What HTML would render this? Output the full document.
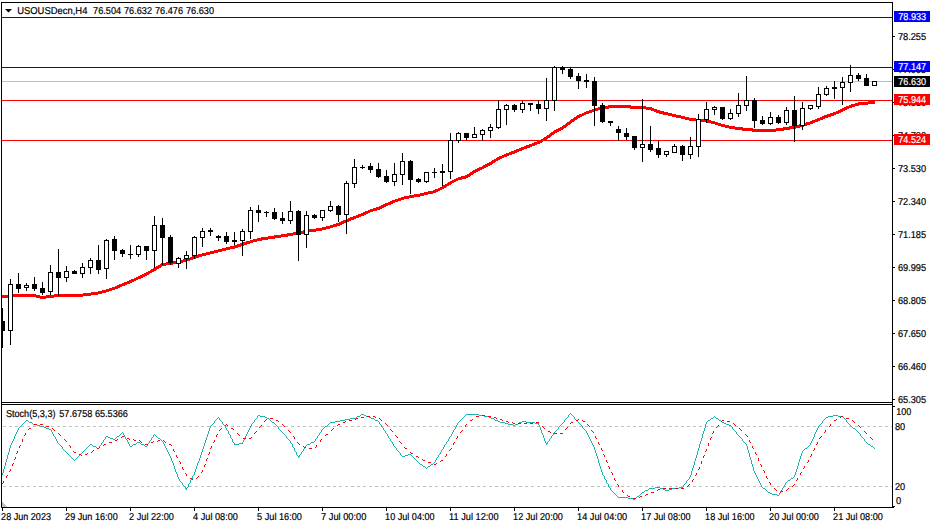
<!DOCTYPE html>
<html><head><meta charset="utf-8"><title>USOUSDecn,H4</title>
<style>html,body{margin:0;padding:0;background:#fff;overflow:hidden}svg{display:block}text{font-family:"Liberation Sans",Arial,sans-serif;font-size:10px;text-rendering:geometricPrecision;stroke-width:0.2px;paint-order:stroke}</style>
</head><body>
<svg width="933" height="528" viewBox="0 0 933 528">
<rect x="0" y="0" width="933" height="528" fill="#fff"/>
<g shape-rendering="crispEdges">
<rect x="2" y="17" width="890" height="1" fill="#0000ff"/>
<rect x="2" y="67" width="890" height="1" fill="#0000ff"/>
<rect x="2" y="81" width="890" height="1" fill="#c0c0c0"/>
<rect x="2" y="100" width="890" height="1" fill="#ff0000"/>
<rect x="2" y="140" width="890" height="1" fill="#ff0000"/>
<g fill="#c0c0c0">
<rect x="3" y="426" width="3" height="1"/>
<rect x="9" y="426" width="3" height="1"/>
<rect x="15" y="426" width="3" height="1"/>
<rect x="21" y="426" width="3" height="1"/>
<rect x="27" y="426" width="3" height="1"/>
<rect x="33" y="426" width="3" height="1"/>
<rect x="39" y="426" width="3" height="1"/>
<rect x="45" y="426" width="3" height="1"/>
<rect x="51" y="426" width="3" height="1"/>
<rect x="57" y="426" width="3" height="1"/>
<rect x="63" y="426" width="3" height="1"/>
<rect x="69" y="426" width="3" height="1"/>
<rect x="75" y="426" width="3" height="1"/>
<rect x="81" y="426" width="3" height="1"/>
<rect x="87" y="426" width="3" height="1"/>
<rect x="93" y="426" width="3" height="1"/>
<rect x="99" y="426" width="3" height="1"/>
<rect x="105" y="426" width="3" height="1"/>
<rect x="111" y="426" width="3" height="1"/>
<rect x="117" y="426" width="3" height="1"/>
<rect x="123" y="426" width="3" height="1"/>
<rect x="129" y="426" width="3" height="1"/>
<rect x="135" y="426" width="3" height="1"/>
<rect x="141" y="426" width="3" height="1"/>
<rect x="147" y="426" width="3" height="1"/>
<rect x="153" y="426" width="3" height="1"/>
<rect x="159" y="426" width="3" height="1"/>
<rect x="165" y="426" width="3" height="1"/>
<rect x="171" y="426" width="3" height="1"/>
<rect x="177" y="426" width="3" height="1"/>
<rect x="183" y="426" width="3" height="1"/>
<rect x="189" y="426" width="3" height="1"/>
<rect x="195" y="426" width="3" height="1"/>
<rect x="201" y="426" width="3" height="1"/>
<rect x="207" y="426" width="3" height="1"/>
<rect x="213" y="426" width="3" height="1"/>
<rect x="219" y="426" width="3" height="1"/>
<rect x="225" y="426" width="3" height="1"/>
<rect x="231" y="426" width="3" height="1"/>
<rect x="237" y="426" width="3" height="1"/>
<rect x="243" y="426" width="3" height="1"/>
<rect x="249" y="426" width="3" height="1"/>
<rect x="255" y="426" width="3" height="1"/>
<rect x="261" y="426" width="3" height="1"/>
<rect x="267" y="426" width="3" height="1"/>
<rect x="273" y="426" width="3" height="1"/>
<rect x="279" y="426" width="3" height="1"/>
<rect x="285" y="426" width="3" height="1"/>
<rect x="291" y="426" width="3" height="1"/>
<rect x="297" y="426" width="3" height="1"/>
<rect x="303" y="426" width="3" height="1"/>
<rect x="309" y="426" width="3" height="1"/>
<rect x="315" y="426" width="3" height="1"/>
<rect x="321" y="426" width="3" height="1"/>
<rect x="327" y="426" width="3" height="1"/>
<rect x="333" y="426" width="3" height="1"/>
<rect x="339" y="426" width="3" height="1"/>
<rect x="345" y="426" width="3" height="1"/>
<rect x="351" y="426" width="3" height="1"/>
<rect x="357" y="426" width="3" height="1"/>
<rect x="363" y="426" width="3" height="1"/>
<rect x="369" y="426" width="3" height="1"/>
<rect x="375" y="426" width="3" height="1"/>
<rect x="381" y="426" width="3" height="1"/>
<rect x="387" y="426" width="3" height="1"/>
<rect x="393" y="426" width="3" height="1"/>
<rect x="399" y="426" width="3" height="1"/>
<rect x="405" y="426" width="3" height="1"/>
<rect x="411" y="426" width="3" height="1"/>
<rect x="417" y="426" width="3" height="1"/>
<rect x="423" y="426" width="3" height="1"/>
<rect x="429" y="426" width="3" height="1"/>
<rect x="435" y="426" width="3" height="1"/>
<rect x="441" y="426" width="3" height="1"/>
<rect x="447" y="426" width="3" height="1"/>
<rect x="453" y="426" width="3" height="1"/>
<rect x="459" y="426" width="3" height="1"/>
<rect x="465" y="426" width="3" height="1"/>
<rect x="471" y="426" width="3" height="1"/>
<rect x="477" y="426" width="3" height="1"/>
<rect x="483" y="426" width="3" height="1"/>
<rect x="489" y="426" width="3" height="1"/>
<rect x="495" y="426" width="3" height="1"/>
<rect x="501" y="426" width="3" height="1"/>
<rect x="507" y="426" width="3" height="1"/>
<rect x="513" y="426" width="3" height="1"/>
<rect x="519" y="426" width="3" height="1"/>
<rect x="525" y="426" width="3" height="1"/>
<rect x="531" y="426" width="3" height="1"/>
<rect x="537" y="426" width="3" height="1"/>
<rect x="543" y="426" width="3" height="1"/>
<rect x="549" y="426" width="3" height="1"/>
<rect x="555" y="426" width="3" height="1"/>
<rect x="561" y="426" width="3" height="1"/>
<rect x="567" y="426" width="3" height="1"/>
<rect x="573" y="426" width="3" height="1"/>
<rect x="579" y="426" width="3" height="1"/>
<rect x="585" y="426" width="3" height="1"/>
<rect x="591" y="426" width="3" height="1"/>
<rect x="597" y="426" width="3" height="1"/>
<rect x="603" y="426" width="3" height="1"/>
<rect x="609" y="426" width="3" height="1"/>
<rect x="615" y="426" width="3" height="1"/>
<rect x="621" y="426" width="3" height="1"/>
<rect x="627" y="426" width="3" height="1"/>
<rect x="633" y="426" width="3" height="1"/>
<rect x="639" y="426" width="3" height="1"/>
<rect x="645" y="426" width="3" height="1"/>
<rect x="651" y="426" width="3" height="1"/>
<rect x="657" y="426" width="3" height="1"/>
<rect x="663" y="426" width="3" height="1"/>
<rect x="669" y="426" width="3" height="1"/>
<rect x="675" y="426" width="3" height="1"/>
<rect x="681" y="426" width="3" height="1"/>
<rect x="687" y="426" width="3" height="1"/>
<rect x="693" y="426" width="3" height="1"/>
<rect x="699" y="426" width="3" height="1"/>
<rect x="705" y="426" width="3" height="1"/>
<rect x="711" y="426" width="3" height="1"/>
<rect x="717" y="426" width="3" height="1"/>
<rect x="723" y="426" width="3" height="1"/>
<rect x="729" y="426" width="3" height="1"/>
<rect x="735" y="426" width="3" height="1"/>
<rect x="741" y="426" width="3" height="1"/>
<rect x="747" y="426" width="3" height="1"/>
<rect x="753" y="426" width="3" height="1"/>
<rect x="759" y="426" width="3" height="1"/>
<rect x="765" y="426" width="3" height="1"/>
<rect x="771" y="426" width="3" height="1"/>
<rect x="777" y="426" width="3" height="1"/>
<rect x="783" y="426" width="3" height="1"/>
<rect x="789" y="426" width="3" height="1"/>
<rect x="795" y="426" width="3" height="1"/>
<rect x="801" y="426" width="3" height="1"/>
<rect x="807" y="426" width="3" height="1"/>
<rect x="813" y="426" width="3" height="1"/>
<rect x="819" y="426" width="3" height="1"/>
<rect x="825" y="426" width="3" height="1"/>
<rect x="831" y="426" width="3" height="1"/>
<rect x="837" y="426" width="3" height="1"/>
<rect x="843" y="426" width="3" height="1"/>
<rect x="849" y="426" width="3" height="1"/>
<rect x="855" y="426" width="3" height="1"/>
<rect x="861" y="426" width="3" height="1"/>
<rect x="867" y="426" width="3" height="1"/>
<rect x="873" y="426" width="3" height="1"/>
<rect x="879" y="426" width="3" height="1"/>
<rect x="885" y="426" width="3" height="1"/>
<rect x="891" y="426" width="1" height="1"/>
<rect x="3" y="486" width="3" height="1"/>
<rect x="9" y="486" width="3" height="1"/>
<rect x="15" y="486" width="3" height="1"/>
<rect x="21" y="486" width="3" height="1"/>
<rect x="27" y="486" width="3" height="1"/>
<rect x="33" y="486" width="3" height="1"/>
<rect x="39" y="486" width="3" height="1"/>
<rect x="45" y="486" width="3" height="1"/>
<rect x="51" y="486" width="3" height="1"/>
<rect x="57" y="486" width="3" height="1"/>
<rect x="63" y="486" width="3" height="1"/>
<rect x="69" y="486" width="3" height="1"/>
<rect x="75" y="486" width="3" height="1"/>
<rect x="81" y="486" width="3" height="1"/>
<rect x="87" y="486" width="3" height="1"/>
<rect x="93" y="486" width="3" height="1"/>
<rect x="99" y="486" width="3" height="1"/>
<rect x="105" y="486" width="3" height="1"/>
<rect x="111" y="486" width="3" height="1"/>
<rect x="117" y="486" width="3" height="1"/>
<rect x="123" y="486" width="3" height="1"/>
<rect x="129" y="486" width="3" height="1"/>
<rect x="135" y="486" width="3" height="1"/>
<rect x="141" y="486" width="3" height="1"/>
<rect x="147" y="486" width="3" height="1"/>
<rect x="153" y="486" width="3" height="1"/>
<rect x="159" y="486" width="3" height="1"/>
<rect x="165" y="486" width="3" height="1"/>
<rect x="171" y="486" width="3" height="1"/>
<rect x="177" y="486" width="3" height="1"/>
<rect x="183" y="486" width="3" height="1"/>
<rect x="189" y="486" width="3" height="1"/>
<rect x="195" y="486" width="3" height="1"/>
<rect x="201" y="486" width="3" height="1"/>
<rect x="207" y="486" width="3" height="1"/>
<rect x="213" y="486" width="3" height="1"/>
<rect x="219" y="486" width="3" height="1"/>
<rect x="225" y="486" width="3" height="1"/>
<rect x="231" y="486" width="3" height="1"/>
<rect x="237" y="486" width="3" height="1"/>
<rect x="243" y="486" width="3" height="1"/>
<rect x="249" y="486" width="3" height="1"/>
<rect x="255" y="486" width="3" height="1"/>
<rect x="261" y="486" width="3" height="1"/>
<rect x="267" y="486" width="3" height="1"/>
<rect x="273" y="486" width="3" height="1"/>
<rect x="279" y="486" width="3" height="1"/>
<rect x="285" y="486" width="3" height="1"/>
<rect x="291" y="486" width="3" height="1"/>
<rect x="297" y="486" width="3" height="1"/>
<rect x="303" y="486" width="3" height="1"/>
<rect x="309" y="486" width="3" height="1"/>
<rect x="315" y="486" width="3" height="1"/>
<rect x="321" y="486" width="3" height="1"/>
<rect x="327" y="486" width="3" height="1"/>
<rect x="333" y="486" width="3" height="1"/>
<rect x="339" y="486" width="3" height="1"/>
<rect x="345" y="486" width="3" height="1"/>
<rect x="351" y="486" width="3" height="1"/>
<rect x="357" y="486" width="3" height="1"/>
<rect x="363" y="486" width="3" height="1"/>
<rect x="369" y="486" width="3" height="1"/>
<rect x="375" y="486" width="3" height="1"/>
<rect x="381" y="486" width="3" height="1"/>
<rect x="387" y="486" width="3" height="1"/>
<rect x="393" y="486" width="3" height="1"/>
<rect x="399" y="486" width="3" height="1"/>
<rect x="405" y="486" width="3" height="1"/>
<rect x="411" y="486" width="3" height="1"/>
<rect x="417" y="486" width="3" height="1"/>
<rect x="423" y="486" width="3" height="1"/>
<rect x="429" y="486" width="3" height="1"/>
<rect x="435" y="486" width="3" height="1"/>
<rect x="441" y="486" width="3" height="1"/>
<rect x="447" y="486" width="3" height="1"/>
<rect x="453" y="486" width="3" height="1"/>
<rect x="459" y="486" width="3" height="1"/>
<rect x="465" y="486" width="3" height="1"/>
<rect x="471" y="486" width="3" height="1"/>
<rect x="477" y="486" width="3" height="1"/>
<rect x="483" y="486" width="3" height="1"/>
<rect x="489" y="486" width="3" height="1"/>
<rect x="495" y="486" width="3" height="1"/>
<rect x="501" y="486" width="3" height="1"/>
<rect x="507" y="486" width="3" height="1"/>
<rect x="513" y="486" width="3" height="1"/>
<rect x="519" y="486" width="3" height="1"/>
<rect x="525" y="486" width="3" height="1"/>
<rect x="531" y="486" width="3" height="1"/>
<rect x="537" y="486" width="3" height="1"/>
<rect x="543" y="486" width="3" height="1"/>
<rect x="549" y="486" width="3" height="1"/>
<rect x="555" y="486" width="3" height="1"/>
<rect x="561" y="486" width="3" height="1"/>
<rect x="567" y="486" width="3" height="1"/>
<rect x="573" y="486" width="3" height="1"/>
<rect x="579" y="486" width="3" height="1"/>
<rect x="585" y="486" width="3" height="1"/>
<rect x="591" y="486" width="3" height="1"/>
<rect x="597" y="486" width="3" height="1"/>
<rect x="603" y="486" width="3" height="1"/>
<rect x="609" y="486" width="3" height="1"/>
<rect x="615" y="486" width="3" height="1"/>
<rect x="621" y="486" width="3" height="1"/>
<rect x="627" y="486" width="3" height="1"/>
<rect x="633" y="486" width="3" height="1"/>
<rect x="639" y="486" width="3" height="1"/>
<rect x="645" y="486" width="3" height="1"/>
<rect x="651" y="486" width="3" height="1"/>
<rect x="657" y="486" width="3" height="1"/>
<rect x="663" y="486" width="3" height="1"/>
<rect x="669" y="486" width="3" height="1"/>
<rect x="675" y="486" width="3" height="1"/>
<rect x="681" y="486" width="3" height="1"/>
<rect x="687" y="486" width="3" height="1"/>
<rect x="693" y="486" width="3" height="1"/>
<rect x="699" y="486" width="3" height="1"/>
<rect x="705" y="486" width="3" height="1"/>
<rect x="711" y="486" width="3" height="1"/>
<rect x="717" y="486" width="3" height="1"/>
<rect x="723" y="486" width="3" height="1"/>
<rect x="729" y="486" width="3" height="1"/>
<rect x="735" y="486" width="3" height="1"/>
<rect x="741" y="486" width="3" height="1"/>
<rect x="747" y="486" width="3" height="1"/>
<rect x="753" y="486" width="3" height="1"/>
<rect x="759" y="486" width="3" height="1"/>
<rect x="765" y="486" width="3" height="1"/>
<rect x="771" y="486" width="3" height="1"/>
<rect x="777" y="486" width="3" height="1"/>
<rect x="783" y="486" width="3" height="1"/>
<rect x="789" y="486" width="3" height="1"/>
<rect x="795" y="486" width="3" height="1"/>
<rect x="801" y="486" width="3" height="1"/>
<rect x="807" y="486" width="3" height="1"/>
<rect x="813" y="486" width="3" height="1"/>
<rect x="819" y="486" width="3" height="1"/>
<rect x="825" y="486" width="3" height="1"/>
<rect x="831" y="486" width="3" height="1"/>
<rect x="837" y="486" width="3" height="1"/>
<rect x="843" y="486" width="3" height="1"/>
<rect x="849" y="486" width="3" height="1"/>
<rect x="855" y="486" width="3" height="1"/>
<rect x="861" y="486" width="3" height="1"/>
<rect x="867" y="486" width="3" height="1"/>
<rect x="873" y="486" width="3" height="1"/>
<rect x="879" y="486" width="3" height="1"/>
<rect x="885" y="486" width="3" height="1"/>
<rect x="891" y="486" width="1" height="1"/>
</g>
<polygon points="2,502 2,507 7,507" fill="#c0c0c0"/>
</g>
<path d="M2 295h1v3h-1zM3 295h1v3h-1zM4 295h1v3h-1zM5 295h1v3h-1zM6 295h1v3h-1zM7 295h1v3h-1zM8 295h1v3h-1zM9 295h1v3h-1zM10 295h1v3h-1zM11 295h1v3h-1zM12 295h1v3h-1zM13 294h1v3h-1zM14 294h1v3h-1zM15 294h1v3h-1zM16 294h1v3h-1zM17 294h1v3h-1zM18 294h1v3h-1zM19 294h1v3h-1zM20 294h1v3h-1zM21 294h1v3h-1zM22 294h1v3h-1zM23 294h1v3h-1zM24 294h1v3h-1zM25 294h1v3h-1zM26 294h1v3h-1zM27 294h1v3h-1zM28 294h1v3h-1zM29 294h1v3h-1zM30 294h1v3h-1zM31 294h1v3h-1zM32 294h1v3h-1zM33 294h1v3h-1zM34 294h1v3h-1zM35 294h1v3h-1zM36 295h1v3h-1zM37 295h1v3h-1zM38 295h1v3h-1zM39 295h1v3h-1zM40 296h1v3h-1zM41 296h1v3h-1zM42 296h1v3h-1zM43 296h1v3h-1zM44 296h1v3h-1zM45 296h1v3h-1zM46 295h1v3h-1zM47 295h1v3h-1zM48 295h1v3h-1zM49 295h1v3h-1zM50 295h1v3h-1zM51 295h1v3h-1zM52 295h1v3h-1zM53 295h1v3h-1zM54 294h1v3h-1zM55 294h1v3h-1zM56 294h1v3h-1zM57 294h1v3h-1zM58 294h1v3h-1zM59 294h1v3h-1zM60 294h1v3h-1zM61 294h1v3h-1zM62 294h1v3h-1zM63 294h1v3h-1zM64 294h1v3h-1zM65 294h1v3h-1zM66 294h1v3h-1zM67 294h1v3h-1zM68 294h1v3h-1zM69 294h1v3h-1zM70 294h1v3h-1zM71 294h1v3h-1zM72 294h1v3h-1zM73 294h1v3h-1zM74 294h1v3h-1zM75 294h1v3h-1zM76 294h1v3h-1zM77 294h1v3h-1zM78 294h1v3h-1zM79 294h1v3h-1zM80 294h1v3h-1zM81 294h1v3h-1zM82 294h1v3h-1zM83 293h1v3h-1zM84 293h1v3h-1zM85 293h1v3h-1zM86 293h1v3h-1zM87 293h1v3h-1zM88 293h1v3h-1zM89 293h1v3h-1zM90 293h1v3h-1zM91 292h1v3h-1zM92 292h1v3h-1zM93 292h1v3h-1zM94 292h1v3h-1zM95 292h1v3h-1zM96 292h1v3h-1zM97 292h1v3h-1zM98 291h1v3h-1zM99 291h1v3h-1zM100 291h1v3h-1zM101 291h1v3h-1zM102 290h1v3h-1zM103 290h1v3h-1zM104 290h1v3h-1zM105 290h1v3h-1zM106 289h1v3h-1zM107 289h1v3h-1zM108 289h1v3h-1zM109 288h1v3h-1zM110 288h1v3h-1zM111 288h1v3h-1zM112 287h1v3h-1zM113 287h1v3h-1zM114 287h1v3h-1zM115 286h1v3h-1zM116 286h1v3h-1zM117 285h1v4h-1zM118 285h1v3h-1zM119 284h1v4h-1zM120 284h1v3h-1zM121 284h1v3h-1zM122 283h1v3h-1zM123 283h1v3h-1zM124 282h1v4h-1zM125 282h1v3h-1zM126 282h1v3h-1zM127 281h1v3h-1zM128 281h1v3h-1zM129 280h1v4h-1zM130 280h1v3h-1zM131 279h1v4h-1zM132 279h1v3h-1zM133 279h1v3h-1zM134 278h1v3h-1zM135 278h1v3h-1zM136 277h1v3h-1zM137 277h1v3h-1zM138 276h1v3h-1zM139 276h1v3h-1zM140 275h1v4h-1zM141 275h1v3h-1zM142 274h1v4h-1zM143 274h1v3h-1zM144 273h1v4h-1zM145 273h1v3h-1zM146 272h1v4h-1zM147 272h1v3h-1zM148 271h1v4h-1zM149 271h1v3h-1zM150 270h1v3h-1zM151 269h1v4h-1zM152 269h1v3h-1zM153 268h1v4h-1zM154 268h1v3h-1zM155 267h1v4h-1zM156 266h1v4h-1zM157 266h1v3h-1zM158 265h1v4h-1zM159 265h1v3h-1zM160 264h1v4h-1zM161 263h1v4h-1zM162 263h1v3h-1zM163 263h1v3h-1zM164 263h1v3h-1zM165 263h1v3h-1zM166 262h1v3h-1zM167 262h1v3h-1zM168 262h1v3h-1zM169 262h1v3h-1zM170 262h1v3h-1zM171 262h1v3h-1zM172 261h1v4h-1zM173 261h1v3h-1zM174 261h1v3h-1zM175 261h1v3h-1zM176 261h1v3h-1zM177 261h1v3h-1zM178 261h1v3h-1zM179 260h1v3h-1zM180 260h1v3h-1zM181 260h1v3h-1zM182 260h1v3h-1zM183 259h1v3h-1zM184 259h1v3h-1zM185 259h1v3h-1zM186 259h1v3h-1zM187 258h1v3h-1zM188 258h1v3h-1zM189 258h1v3h-1zM190 257h1v3h-1zM191 257h1v3h-1zM192 256h1v4h-1zM193 256h1v3h-1zM194 256h1v3h-1zM195 255h1v4h-1zM196 255h1v3h-1zM197 255h1v3h-1zM198 254h1v4h-1zM199 254h1v3h-1zM200 254h1v3h-1zM201 254h1v3h-1zM202 253h1v3h-1zM203 253h1v3h-1zM204 253h1v3h-1zM205 253h1v3h-1zM206 252h1v3h-1zM207 252h1v3h-1zM208 252h1v3h-1zM209 252h1v3h-1zM210 251h1v3h-1zM211 251h1v3h-1zM212 251h1v3h-1zM213 251h1v3h-1zM214 250h1v3h-1zM215 250h1v3h-1zM216 250h1v3h-1zM217 250h1v3h-1zM218 249h1v3h-1zM219 249h1v3h-1zM220 249h1v3h-1zM221 249h1v3h-1zM222 248h1v3h-1zM223 248h1v3h-1zM224 248h1v3h-1zM225 248h1v3h-1zM226 247h1v3h-1zM227 247h1v3h-1zM228 247h1v3h-1zM229 247h1v3h-1zM230 246h1v3h-1zM231 246h1v3h-1zM232 246h1v3h-1zM233 246h1v3h-1zM234 245h1v4h-1zM235 245h1v3h-1zM236 245h1v3h-1zM237 244h1v4h-1zM238 244h1v3h-1zM239 244h1v3h-1zM240 243h1v4h-1zM241 243h1v3h-1zM242 243h1v3h-1zM243 242h1v4h-1zM244 242h1v3h-1zM245 242h1v3h-1zM246 241h1v4h-1zM247 241h1v3h-1zM248 241h1v3h-1zM249 241h1v3h-1zM250 240h1v3h-1zM251 240h1v3h-1zM252 240h1v3h-1zM253 239h1v3h-1zM254 239h1v3h-1zM255 239h1v3h-1zM256 239h1v3h-1zM257 238h1v3h-1zM258 238h1v3h-1zM259 238h1v3h-1zM260 238h1v3h-1zM261 237h1v4h-1zM262 237h1v3h-1zM263 237h1v3h-1zM264 237h1v3h-1zM265 237h1v3h-1zM266 237h1v3h-1zM267 237h1v3h-1zM268 236h1v3h-1zM269 236h1v3h-1zM270 236h1v3h-1zM271 236h1v3h-1zM272 236h1v3h-1zM273 236h1v3h-1zM274 235h1v4h-1zM275 235h1v3h-1zM276 235h1v3h-1zM277 235h1v3h-1zM278 235h1v3h-1zM279 235h1v3h-1zM280 235h1v3h-1zM281 234h1v3h-1zM282 234h1v3h-1zM283 234h1v3h-1zM284 234h1v3h-1zM285 234h1v3h-1zM286 234h1v3h-1zM287 233h1v4h-1zM288 233h1v3h-1zM289 233h1v3h-1zM290 233h1v3h-1zM291 233h1v3h-1zM292 233h1v3h-1zM293 232h1v3h-1zM294 232h1v3h-1zM295 232h1v3h-1zM296 232h1v3h-1zM297 232h1v3h-1zM298 231h1v4h-1zM299 231h1v3h-1zM300 231h1v3h-1zM301 231h1v3h-1zM302 231h1v3h-1zM303 230h1v4h-1zM304 230h1v3h-1zM305 230h1v3h-1zM306 230h1v3h-1zM307 230h1v3h-1zM308 230h1v3h-1zM309 229h1v3h-1zM310 229h1v3h-1zM311 229h1v3h-1zM312 229h1v3h-1zM313 229h1v3h-1zM314 229h1v3h-1zM315 229h1v3h-1zM316 228h1v3h-1zM317 228h1v3h-1zM318 228h1v3h-1zM319 228h1v3h-1zM320 228h1v3h-1zM321 228h1v3h-1zM322 227h1v3h-1zM323 227h1v3h-1zM324 227h1v3h-1zM325 227h1v3h-1zM326 226h1v3h-1zM327 226h1v3h-1zM328 226h1v3h-1zM329 226h1v3h-1zM330 225h1v3h-1zM331 225h1v3h-1zM332 225h1v3h-1zM333 224h1v3h-1zM334 224h1v3h-1zM335 224h1v3h-1zM336 223h1v4h-1zM337 223h1v3h-1zM338 223h1v3h-1zM339 222h1v4h-1zM340 222h1v3h-1zM341 221h1v4h-1zM342 221h1v3h-1zM343 220h1v4h-1zM344 220h1v3h-1zM345 220h1v3h-1zM346 219h1v3h-1zM347 219h1v3h-1zM348 218h1v4h-1zM349 218h1v3h-1zM350 217h1v4h-1zM351 217h1v3h-1zM352 217h1v3h-1zM353 216h1v4h-1zM354 216h1v3h-1zM355 216h1v3h-1zM356 215h1v3h-1zM357 215h1v3h-1zM358 214h1v4h-1zM359 214h1v3h-1zM360 214h1v3h-1zM361 213h1v3h-1zM362 213h1v3h-1zM363 212h1v4h-1zM364 212h1v3h-1zM365 211h1v4h-1zM366 211h1v3h-1zM367 211h1v3h-1zM368 210h1v3h-1zM369 210h1v3h-1zM370 209h1v3h-1zM371 209h1v3h-1zM372 209h1v3h-1zM373 208h1v3h-1zM374 208h1v3h-1zM375 208h1v3h-1zM376 207h1v4h-1zM377 207h1v3h-1zM378 207h1v3h-1zM379 206h1v4h-1zM380 206h1v3h-1zM381 205h1v4h-1zM382 205h1v3h-1zM383 204h1v4h-1zM384 204h1v3h-1zM385 203h1v4h-1zM386 203h1v3h-1zM387 203h1v3h-1zM388 202h1v3h-1zM389 202h1v3h-1zM390 201h1v4h-1zM391 201h1v3h-1zM392 200h1v4h-1zM393 200h1v3h-1zM394 200h1v3h-1zM395 199h1v3h-1zM396 199h1v3h-1zM397 199h1v3h-1zM398 198h1v3h-1zM399 198h1v3h-1zM400 198h1v3h-1zM401 197h1v3h-1zM402 197h1v3h-1zM403 197h1v3h-1zM404 196h1v3h-1zM405 196h1v3h-1zM406 196h1v3h-1zM407 196h1v3h-1zM408 196h1v3h-1zM409 195h1v3h-1zM410 195h1v3h-1zM411 195h1v3h-1zM412 195h1v3h-1zM413 195h1v3h-1zM414 194h1v3h-1zM415 194h1v3h-1zM416 194h1v3h-1zM417 194h1v3h-1zM418 194h1v3h-1zM419 194h1v3h-1zM420 193h1v3h-1zM421 193h1v3h-1zM422 193h1v3h-1zM423 193h1v3h-1zM424 192h1v3h-1zM425 192h1v3h-1zM426 192h1v3h-1zM427 192h1v3h-1zM428 191h1v3h-1zM429 191h1v3h-1zM430 191h1v3h-1zM431 191h1v3h-1zM432 191h1v3h-1zM433 190h1v3h-1zM434 190h1v3h-1zM435 189h1v4h-1zM436 189h1v3h-1zM437 189h1v3h-1zM438 188h1v3h-1zM439 188h1v3h-1zM440 187h1v3h-1zM441 187h1v3h-1zM442 186h1v3h-1zM443 185h1v4h-1zM444 185h1v3h-1zM445 184h1v4h-1zM446 184h1v3h-1zM447 183h1v3h-1zM448 182h1v4h-1zM449 182h1v3h-1zM450 181h1v4h-1zM451 181h1v3h-1zM452 180h1v3h-1zM453 180h1v3h-1zM454 179h1v3h-1zM455 179h1v3h-1zM456 178h1v3h-1zM457 178h1v3h-1zM458 177h1v3h-1zM459 177h1v3h-1zM460 177h1v3h-1zM461 176h1v4h-1zM462 176h1v3h-1zM463 176h1v3h-1zM464 176h1v3h-1zM465 175h1v4h-1zM466 175h1v3h-1zM467 174h1v4h-1zM468 174h1v3h-1zM469 173h1v4h-1zM470 172h1v4h-1zM471 172h1v3h-1zM472 171h1v4h-1zM473 170h1v4h-1zM474 170h1v3h-1zM475 169h1v4h-1zM476 169h1v3h-1zM477 168h1v4h-1zM478 168h1v3h-1zM479 167h1v4h-1zM480 167h1v3h-1zM481 167h1v3h-1zM482 166h1v3h-1zM483 165h1v4h-1zM484 165h1v3h-1zM485 164h1v4h-1zM486 164h1v3h-1zM487 163h1v4h-1zM488 163h1v3h-1zM489 162h1v4h-1zM490 162h1v3h-1zM491 161h1v4h-1zM492 160h1v4h-1zM493 160h1v3h-1zM494 159h1v4h-1zM495 159h1v3h-1zM496 158h1v3h-1zM497 157h1v4h-1zM498 157h1v3h-1zM499 156h1v4h-1zM500 156h1v3h-1zM501 156h1v3h-1zM502 155h1v3h-1zM503 155h1v3h-1zM504 154h1v3h-1zM505 154h1v3h-1zM506 153h1v4h-1zM507 153h1v3h-1zM508 153h1v3h-1zM509 152h1v3h-1zM510 152h1v3h-1zM511 151h1v4h-1zM512 151h1v3h-1zM513 151h1v3h-1zM514 150h1v4h-1zM515 150h1v3h-1zM516 149h1v4h-1zM517 149h1v3h-1zM518 149h1v3h-1zM519 148h1v3h-1zM520 148h1v3h-1zM521 147h1v4h-1zM522 147h1v3h-1zM523 147h1v3h-1zM524 146h1v3h-1zM525 146h1v3h-1zM526 145h1v4h-1zM527 145h1v3h-1zM528 145h1v3h-1zM529 144h1v4h-1zM530 144h1v3h-1zM531 144h1v3h-1zM532 143h1v3h-1zM533 143h1v3h-1zM534 142h1v4h-1zM535 142h1v3h-1zM536 142h1v3h-1zM537 141h1v3h-1zM538 141h1v3h-1zM539 140h1v4h-1zM540 140h1v3h-1zM541 139h1v4h-1zM542 139h1v3h-1zM543 138h1v3h-1zM544 137h1v4h-1zM545 137h1v3h-1zM546 136h1v4h-1zM547 135h1v4h-1zM548 135h1v3h-1zM549 134h1v4h-1zM550 133h1v4h-1zM551 132h1v4h-1zM552 132h1v3h-1zM553 131h1v4h-1zM554 130h1v4h-1zM555 130h1v3h-1zM556 129h1v4h-1zM557 129h1v3h-1zM558 128h1v4h-1zM559 128h1v3h-1zM560 127h1v4h-1zM561 127h1v3h-1zM562 126h1v4h-1zM563 125h1v4h-1zM564 125h1v3h-1zM565 124h1v4h-1zM566 123h1v4h-1zM567 122h1v4h-1zM568 122h1v3h-1zM569 121h1v4h-1zM570 120h1v4h-1zM571 119h1v4h-1zM572 119h1v3h-1zM573 118h1v4h-1zM574 117h1v4h-1zM575 117h1v3h-1zM576 116h1v4h-1zM577 115h1v4h-1zM578 115h1v3h-1zM579 114h1v4h-1zM580 114h1v3h-1zM581 114h1v3h-1zM582 113h1v3h-1zM583 113h1v3h-1zM584 112h1v3h-1zM585 112h1v3h-1zM586 111h1v3h-1zM587 111h1v3h-1zM588 111h1v3h-1zM589 110h1v3h-1zM590 110h1v3h-1zM591 110h1v3h-1zM592 109h1v3h-1zM593 109h1v3h-1zM594 109h1v3h-1zM595 108h1v3h-1zM596 108h1v3h-1zM597 108h1v3h-1zM598 107h1v3h-1zM599 107h1v3h-1zM600 107h1v3h-1zM601 106h1v4h-1zM602 106h1v3h-1zM603 106h1v3h-1zM604 106h1v3h-1zM605 106h1v3h-1zM606 106h1v3h-1zM607 106h1v3h-1zM608 105h1v4h-1zM609 105h1v3h-1zM610 105h1v3h-1zM611 105h1v3h-1zM612 105h1v3h-1zM613 105h1v3h-1zM614 105h1v3h-1zM615 105h1v3h-1zM616 105h1v3h-1zM617 105h1v3h-1zM618 105h1v3h-1zM619 105h1v3h-1zM620 105h1v3h-1zM621 105h1v3h-1zM622 105h1v3h-1zM623 105h1v3h-1zM624 105h1v3h-1zM625 105h1v3h-1zM626 105h1v3h-1zM627 105h1v3h-1zM628 105h1v3h-1zM629 105h1v3h-1zM630 105h1v4h-1zM631 106h1v3h-1zM632 106h1v3h-1zM633 106h1v3h-1zM634 106h1v3h-1zM635 106h1v3h-1zM636 106h1v3h-1zM637 106h1v3h-1zM638 106h1v3h-1zM639 106h1v3h-1zM640 106h1v3h-1zM641 106h1v3h-1zM642 106h1v3h-1zM643 106h1v3h-1zM644 106h1v3h-1zM645 106h1v3h-1zM646 107h1v3h-1zM647 107h1v3h-1zM648 107h1v3h-1zM649 107h1v3h-1zM650 107h1v3h-1zM651 107h1v4h-1zM652 108h1v3h-1zM653 108h1v3h-1zM654 109h1v3h-1zM655 109h1v3h-1zM656 109h1v4h-1zM657 110h1v3h-1zM658 110h1v3h-1zM659 110h1v4h-1zM660 111h1v3h-1zM661 111h1v3h-1zM662 111h1v3h-1zM663 111h1v4h-1zM664 112h1v3h-1zM665 112h1v3h-1zM666 112h1v3h-1zM667 112h1v3h-1zM668 113h1v3h-1zM669 113h1v3h-1zM670 113h1v3h-1zM671 113h1v3h-1zM672 114h1v3h-1zM673 114h1v3h-1zM674 114h1v3h-1zM675 114h1v3h-1zM676 115h1v3h-1zM677 115h1v3h-1zM678 115h1v3h-1zM679 115h1v3h-1zM680 115h1v3h-1zM681 116h1v3h-1zM682 116h1v3h-1zM683 116h1v3h-1zM684 116h1v3h-1zM685 117h1v3h-1zM686 117h1v3h-1zM687 117h1v3h-1zM688 117h1v3h-1zM689 118h1v3h-1zM690 118h1v3h-1zM691 118h1v3h-1zM692 118h1v3h-1zM693 118h1v3h-1zM694 118h1v3h-1zM695 118h1v3h-1zM696 119h1v3h-1zM697 119h1v3h-1zM698 119h1v3h-1zM699 119h1v3h-1zM700 119h1v3h-1zM701 119h1v3h-1zM702 119h1v3h-1zM703 119h1v3h-1zM704 119h1v3h-1zM705 119h1v3h-1zM706 119h1v3h-1zM707 120h1v3h-1zM708 120h1v3h-1zM709 120h1v3h-1zM710 120h1v3h-1zM711 121h1v3h-1zM712 121h1v3h-1zM713 121h1v3h-1zM714 121h1v3h-1zM715 122h1v3h-1zM716 122h1v3h-1zM717 122h1v3h-1zM718 123h1v3h-1zM719 123h1v3h-1zM720 123h1v3h-1zM721 124h1v3h-1zM722 124h1v3h-1zM723 124h1v3h-1zM724 124h1v3h-1zM725 125h1v3h-1zM726 125h1v3h-1zM727 125h1v3h-1zM728 125h1v3h-1zM729 126h1v3h-1zM730 126h1v3h-1zM731 126h1v3h-1zM732 126h1v3h-1zM733 126h1v3h-1zM734 126h1v3h-1zM735 127h1v3h-1zM736 127h1v3h-1zM737 127h1v3h-1zM738 127h1v3h-1zM739 127h1v3h-1zM740 127h1v3h-1zM741 127h1v3h-1zM742 127h1v4h-1zM743 128h1v3h-1zM744 128h1v3h-1zM745 128h1v3h-1zM746 128h1v3h-1zM747 128h1v3h-1zM748 128h1v3h-1zM749 128h1v3h-1zM750 128h1v3h-1zM751 128h1v3h-1zM752 128h1v4h-1zM753 129h1v3h-1zM754 129h1v3h-1zM755 129h1v3h-1zM756 129h1v3h-1zM757 129h1v3h-1zM758 129h1v3h-1zM759 129h1v3h-1zM760 129h1v3h-1zM761 129h1v3h-1zM762 129h1v3h-1zM763 129h1v3h-1zM764 129h1v3h-1zM765 129h1v3h-1zM766 129h1v3h-1zM767 129h1v3h-1zM768 129h1v3h-1zM769 129h1v3h-1zM770 129h1v3h-1zM771 129h1v3h-1zM772 129h1v3h-1zM773 129h1v3h-1zM774 129h1v3h-1zM775 129h1v3h-1zM776 128h1v3h-1zM777 128h1v3h-1zM778 128h1v3h-1zM779 128h1v3h-1zM780 128h1v3h-1zM781 128h1v3h-1zM782 128h1v3h-1zM783 127h1v4h-1zM784 127h1v3h-1zM785 127h1v3h-1zM786 127h1v3h-1zM787 127h1v3h-1zM788 127h1v3h-1zM789 126h1v4h-1zM790 126h1v3h-1zM791 126h1v3h-1zM792 126h1v3h-1zM793 126h1v3h-1zM794 126h1v3h-1zM795 125h1v4h-1zM796 125h1v3h-1zM797 125h1v3h-1zM798 125h1v3h-1zM799 124h1v4h-1zM800 124h1v3h-1zM801 124h1v3h-1zM802 124h1v3h-1zM803 123h1v4h-1zM804 123h1v3h-1zM805 123h1v3h-1zM806 122h1v4h-1zM807 122h1v3h-1zM808 122h1v3h-1zM809 122h1v3h-1zM810 121h1v3h-1zM811 121h1v3h-1zM812 120h1v4h-1zM813 120h1v3h-1zM814 120h1v3h-1zM815 119h1v3h-1zM816 119h1v3h-1zM817 118h1v4h-1zM818 118h1v3h-1zM819 118h1v3h-1zM820 117h1v3h-1zM821 117h1v3h-1zM822 116h1v4h-1zM823 116h1v3h-1zM824 115h1v4h-1zM825 115h1v3h-1zM826 115h1v3h-1zM827 114h1v4h-1zM828 114h1v3h-1zM829 114h1v3h-1zM830 113h1v4h-1zM831 113h1v3h-1zM832 113h1v3h-1zM833 112h1v4h-1zM834 112h1v3h-1zM835 112h1v3h-1zM836 111h1v3h-1zM837 111h1v3h-1zM838 110h1v4h-1zM839 110h1v3h-1zM840 109h1v4h-1zM841 109h1v3h-1zM842 108h1v4h-1zM843 108h1v3h-1zM844 107h1v4h-1zM845 107h1v3h-1zM846 106h1v4h-1zM847 106h1v3h-1zM848 106h1v3h-1zM849 105h1v3h-1zM850 105h1v3h-1zM851 104h1v4h-1zM852 104h1v3h-1zM853 104h1v3h-1zM854 104h1v3h-1zM855 103h1v3h-1zM856 103h1v3h-1zM857 103h1v3h-1zM858 102h1v4h-1zM859 102h1v3h-1zM860 102h1v3h-1zM861 102h1v3h-1zM862 102h1v3h-1zM863 102h1v3h-1zM864 102h1v3h-1zM865 102h1v3h-1zM866 102h1v3h-1zM867 102h1v3h-1zM868 101h1v3h-1zM869 101h1v3h-1zM870 101h1v3h-1zM871 101h1v3h-1zM872 101h1v3h-1zM873 101h1v3h-1zM874 101h1v3h-1z" fill="#ff0000" shape-rendering="crispEdges"/>
<g shape-rendering="crispEdges" fill="#000">
<rect x="2" y="308" width="1" height="40"/>
<rect x="2" y="321" width="3" height="10"/>
<rect x="10" y="279" width="1" height="66"/>
<rect x="8" y="284" width="5" height="47"/><rect x="9" y="285" width="3" height="45" fill="#fff"/>
<rect x="18" y="273" width="1" height="20"/>
<rect x="16" y="284" width="5" height="5"/>
<rect x="26" y="283" width="1" height="8"/>
<rect x="24" y="285" width="5" height="3"/><rect x="25" y="286" width="3" height="1" fill="#fff"/>
<rect x="34" y="277" width="1" height="14"/>
<rect x="32" y="284" width="5" height="5"/>
<rect x="42" y="282" width="1" height="13"/>
<rect x="40" y="288" width="5" height="5"/>
<rect x="50" y="265" width="1" height="30"/>
<rect x="48" y="272" width="5" height="20"/><rect x="49" y="273" width="3" height="18" fill="#fff"/>
<rect x="58" y="249" width="1" height="47"/>
<rect x="56" y="272" width="5" height="6"/>
<rect x="66" y="266" width="1" height="16"/>
<rect x="64" y="271" width="5" height="7"/><rect x="65" y="272" width="3" height="5" fill="#fff"/>
<rect x="74" y="270" width="1" height="4"/>
<rect x="72" y="271" width="5" height="3"/>
<rect x="82" y="263" width="1" height="15"/>
<rect x="80" y="267" width="5" height="7"/><rect x="81" y="268" width="3" height="5" fill="#fff"/>
<rect x="90" y="258" width="1" height="16"/>
<rect x="88" y="260" width="5" height="8"/><rect x="89" y="261" width="3" height="6" fill="#fff"/>
<rect x="98" y="245" width="1" height="29"/>
<rect x="96" y="260" width="5" height="10"/>
<rect x="106" y="239" width="1" height="40"/>
<rect x="104" y="240" width="5" height="29"/><rect x="105" y="241" width="3" height="27" fill="#fff"/>
<rect x="114" y="236" width="1" height="24"/>
<rect x="112" y="239" width="5" height="12"/>
<rect x="122" y="249" width="1" height="8"/>
<rect x="120" y="250" width="5" height="4"/>
<rect x="130" y="245" width="1" height="14"/>
<rect x="128" y="254" width="5" height="1"/>
<rect x="138" y="245" width="1" height="12"/>
<rect x="136" y="246" width="5" height="9"/><rect x="137" y="247" width="3" height="7" fill="#fff"/>
<rect x="146" y="246" width="1" height="14"/>
<rect x="144" y="246" width="5" height="5"/>
<rect x="154" y="216" width="1" height="52"/>
<rect x="152" y="225" width="5" height="26"/><rect x="153" y="226" width="3" height="24" fill="#fff"/>
<rect x="162" y="218" width="1" height="47"/>
<rect x="160" y="225" width="5" height="13"/>
<rect x="170" y="235" width="1" height="30"/>
<rect x="168" y="237" width="5" height="26"/>
<rect x="178" y="257" width="1" height="11"/>
<rect x="176" y="258" width="5" height="6"/><rect x="177" y="259" width="3" height="4" fill="#fff"/>
<rect x="186" y="251" width="1" height="18"/>
<rect x="184" y="255" width="5" height="4"/><rect x="185" y="256" width="3" height="2" fill="#fff"/>
<rect x="194" y="236" width="1" height="23"/>
<rect x="192" y="237" width="5" height="19"/><rect x="193" y="238" width="3" height="17" fill="#fff"/>
<rect x="202" y="228" width="1" height="19"/>
<rect x="200" y="231" width="5" height="7"/><rect x="201" y="232" width="3" height="5" fill="#fff"/>
<rect x="210" y="228" width="1" height="8"/>
<rect x="208" y="230" width="5" height="2"/>
<rect x="218" y="235" width="1" height="6"/>
<rect x="216" y="236" width="5" height="2"/>
<rect x="226" y="232" width="1" height="12"/>
<rect x="224" y="236" width="5" height="6"/>
<rect x="234" y="232" width="1" height="13"/>
<rect x="232" y="240" width="5" height="2"/>
<rect x="242" y="229" width="1" height="27"/>
<rect x="240" y="231" width="5" height="10"/><rect x="241" y="232" width="3" height="8" fill="#fff"/>
<rect x="250" y="207" width="1" height="32"/>
<rect x="248" y="210" width="5" height="22"/><rect x="249" y="211" width="3" height="20" fill="#fff"/>
<rect x="258" y="205" width="1" height="17"/>
<rect x="256" y="210" width="5" height="3"/>
<rect x="266" y="211" width="1" height="6"/>
<rect x="264" y="212" width="5" height="1"/>
<rect x="274" y="208" width="1" height="12"/>
<rect x="272" y="212" width="5" height="7"/>
<rect x="282" y="212" width="1" height="12"/>
<rect x="280" y="218" width="5" height="3"/>
<rect x="290" y="201" width="1" height="23"/>
<rect x="288" y="211" width="5" height="10"/><rect x="289" y="212" width="3" height="8" fill="#fff"/>
<rect x="298" y="210" width="1" height="51"/>
<rect x="296" y="211" width="5" height="24"/>
<rect x="306" y="211" width="1" height="37"/>
<rect x="304" y="215" width="5" height="20"/><rect x="305" y="216" width="3" height="18" fill="#fff"/>
<rect x="314" y="214" width="1" height="5"/>
<rect x="312" y="215" width="5" height="3"/>
<rect x="322" y="210" width="1" height="11"/>
<rect x="320" y="210" width="5" height="8"/><rect x="321" y="211" width="3" height="6" fill="#fff"/>
<rect x="330" y="201" width="1" height="11"/>
<rect x="328" y="206" width="5" height="5"/><rect x="329" y="207" width="3" height="3" fill="#fff"/>
<rect x="338" y="205" width="1" height="17"/>
<rect x="336" y="206" width="5" height="9"/>
<rect x="346" y="181" width="1" height="53"/>
<rect x="344" y="183" width="5" height="32"/><rect x="345" y="184" width="3" height="30" fill="#fff"/>
<rect x="354" y="159" width="1" height="29"/>
<rect x="352" y="167" width="5" height="17"/><rect x="353" y="168" width="3" height="15" fill="#fff"/>
<rect x="362" y="165" width="1" height="4"/>
<rect x="360" y="167" width="5" height="1"/>
<rect x="370" y="163" width="1" height="10"/>
<rect x="368" y="166" width="5" height="4"/>
<rect x="378" y="163" width="1" height="15"/>
<rect x="376" y="169" width="5" height="8"/>
<rect x="386" y="170" width="1" height="13"/>
<rect x="384" y="176" width="5" height="6"/>
<rect x="394" y="163" width="1" height="23"/>
<rect x="392" y="174" width="5" height="8"/><rect x="393" y="175" width="3" height="6" fill="#fff"/>
<rect x="402" y="153" width="1" height="32"/>
<rect x="400" y="161" width="5" height="14"/><rect x="401" y="162" width="3" height="12" fill="#fff"/>
<rect x="410" y="160" width="1" height="34"/>
<rect x="408" y="161" width="5" height="19"/>
<rect x="418" y="178" width="1" height="5"/>
<rect x="416" y="179" width="5" height="3"/>
<rect x="426" y="172" width="1" height="11"/>
<rect x="424" y="172" width="5" height="10"/><rect x="425" y="173" width="3" height="8" fill="#fff"/>
<rect x="434" y="168" width="1" height="10"/>
<rect x="432" y="172" width="5" height="1"/>
<rect x="442" y="164" width="1" height="22"/>
<rect x="440" y="171" width="5" height="2"/>
<rect x="450" y="133" width="1" height="46"/>
<rect x="448" y="140" width="5" height="32"/><rect x="449" y="141" width="3" height="30" fill="#fff"/>
<rect x="458" y="132" width="1" height="11"/>
<rect x="456" y="133" width="5" height="8"/><rect x="457" y="134" width="3" height="6" fill="#fff"/>
<rect x="466" y="133" width="1" height="7"/>
<rect x="464" y="133" width="5" height="5"/>
<rect x="474" y="127" width="1" height="11"/>
<rect x="472" y="134" width="5" height="4"/><rect x="473" y="135" width="3" height="2" fill="#fff"/>
<rect x="482" y="129" width="1" height="12"/>
<rect x="480" y="130" width="5" height="5"/><rect x="481" y="131" width="3" height="3" fill="#fff"/>
<rect x="490" y="124" width="1" height="14"/>
<rect x="488" y="127" width="5" height="4"/><rect x="489" y="128" width="3" height="2" fill="#fff"/>
<rect x="498" y="100" width="1" height="29"/>
<rect x="496" y="109" width="5" height="19"/><rect x="497" y="110" width="3" height="17" fill="#fff"/>
<rect x="506" y="104" width="1" height="21"/>
<rect x="504" y="105" width="5" height="5"/><rect x="505" y="106" width="3" height="3" fill="#fff"/>
<rect x="514" y="104" width="1" height="8"/>
<rect x="512" y="105" width="5" height="5"/>
<rect x="522" y="101" width="1" height="12"/>
<rect x="520" y="103" width="5" height="7"/><rect x="521" y="104" width="3" height="5" fill="#fff"/>
<rect x="530" y="103" width="1" height="8"/>
<rect x="528" y="103" width="5" height="2"/>
<rect x="538" y="100" width="1" height="14"/>
<rect x="536" y="104" width="5" height="5"/>
<rect x="546" y="78" width="1" height="43"/>
<rect x="544" y="100" width="5" height="9"/><rect x="545" y="101" width="3" height="7" fill="#fff"/>
<rect x="554" y="66" width="1" height="45"/>
<rect x="552" y="67" width="5" height="34"/><rect x="553" y="68" width="3" height="32" fill="#fff"/>
<rect x="562" y="66" width="1" height="8"/>
<rect x="560" y="67" width="5" height="3"/>
<rect x="570" y="67" width="1" height="12"/>
<rect x="568" y="69" width="5" height="8"/>
<rect x="578" y="73" width="1" height="16"/>
<rect x="576" y="76" width="5" height="5"/>
<rect x="586" y="74" width="1" height="14"/>
<rect x="584" y="80" width="5" height="2"/>
<rect x="594" y="77" width="1" height="49"/>
<rect x="592" y="81" width="5" height="25"/>
<rect x="602" y="103" width="1" height="20"/>
<rect x="600" y="105" width="5" height="17"/>
<rect x="610" y="121" width="1" height="5"/>
<rect x="608" y="121" width="5" height="2"/>
<rect x="618" y="126" width="1" height="15"/>
<rect x="616" y="129" width="5" height="4"/>
<rect x="626" y="128" width="1" height="12"/>
<rect x="624" y="133" width="5" height="4"/>
<rect x="634" y="136" width="1" height="14"/>
<rect x="632" y="136" width="5" height="12"/>
<rect x="642" y="99" width="1" height="63"/>
<rect x="640" y="144" width="5" height="4"/><rect x="641" y="145" width="3" height="2" fill="#fff"/>
<rect x="650" y="126" width="1" height="26"/>
<rect x="648" y="144" width="5" height="6"/>
<rect x="658" y="141" width="1" height="17"/>
<rect x="656" y="148" width="5" height="7"/>
<rect x="666" y="151" width="1" height="6"/>
<rect x="664" y="151" width="5" height="4"/><rect x="665" y="152" width="3" height="2" fill="#fff"/>
<rect x="674" y="144" width="1" height="9"/>
<rect x="672" y="146" width="5" height="7"/><rect x="673" y="147" width="3" height="5" fill="#fff"/>
<rect x="682" y="145" width="1" height="16"/>
<rect x="680" y="146" width="5" height="9"/>
<rect x="690" y="137" width="1" height="22"/>
<rect x="688" y="146" width="5" height="9"/><rect x="689" y="147" width="3" height="7" fill="#fff"/>
<rect x="698" y="114" width="1" height="43"/>
<rect x="696" y="119" width="5" height="28"/><rect x="697" y="120" width="3" height="26" fill="#fff"/>
<rect x="706" y="102" width="1" height="21"/>
<rect x="704" y="109" width="5" height="11"/><rect x="705" y="110" width="3" height="9" fill="#fff"/>
<rect x="714" y="106" width="1" height="9"/>
<rect x="712" y="107" width="5" height="3"/><rect x="713" y="108" width="3" height="1" fill="#fff"/>
<rect x="722" y="107" width="1" height="13"/>
<rect x="720" y="107" width="5" height="12"/>
<rect x="730" y="109" width="1" height="11"/>
<rect x="728" y="113" width="5" height="6"/><rect x="729" y="114" width="3" height="4" fill="#fff"/>
<rect x="738" y="93" width="1" height="24"/>
<rect x="736" y="105" width="5" height="9"/><rect x="737" y="106" width="3" height="7" fill="#fff"/>
<rect x="746" y="76" width="1" height="35"/>
<rect x="744" y="100" width="5" height="6"/><rect x="745" y="101" width="3" height="4" fill="#fff"/>
<rect x="754" y="98" width="1" height="30"/>
<rect x="752" y="100" width="5" height="21"/>
<rect x="762" y="116" width="1" height="9"/>
<rect x="760" y="120" width="5" height="4"/>
<rect x="770" y="112" width="1" height="13"/>
<rect x="768" y="117" width="5" height="7"/><rect x="769" y="118" width="3" height="5" fill="#fff"/>
<rect x="778" y="115" width="1" height="9"/>
<rect x="776" y="117" width="5" height="6"/>
<rect x="786" y="107" width="1" height="18"/>
<rect x="784" y="110" width="5" height="13"/><rect x="785" y="111" width="3" height="11" fill="#fff"/>
<rect x="794" y="96" width="1" height="46"/>
<rect x="792" y="110" width="5" height="16"/>
<rect x="802" y="102" width="1" height="28"/>
<rect x="800" y="108" width="5" height="18"/><rect x="801" y="109" width="3" height="16" fill="#fff"/>
<rect x="810" y="105" width="1" height="5"/>
<rect x="808" y="105" width="5" height="4"/><rect x="809" y="106" width="3" height="2" fill="#fff"/>
<rect x="818" y="87" width="1" height="22"/>
<rect x="816" y="94" width="5" height="13"/><rect x="817" y="95" width="3" height="11" fill="#fff"/>
<rect x="826" y="86" width="1" height="10"/>
<rect x="824" y="88" width="5" height="7"/><rect x="825" y="89" width="3" height="5" fill="#fff"/>
<rect x="834" y="81" width="1" height="18"/>
<rect x="832" y="87" width="5" height="2"/>
<rect x="842" y="77" width="1" height="28"/>
<rect x="840" y="82" width="5" height="6"/><rect x="841" y="83" width="3" height="4" fill="#fff"/>
<rect x="850" y="65" width="1" height="27"/>
<rect x="848" y="75" width="5" height="8"/><rect x="849" y="76" width="3" height="6" fill="#fff"/>
<rect x="858" y="73" width="1" height="8"/>
<rect x="856" y="75" width="5" height="4"/>
<rect x="866" y="74" width="1" height="12"/>
<rect x="864" y="78" width="5" height="8"/>
<rect x="874" y="81" width="1" height="5"/>
<rect x="872" y="81" width="5" height="5"/><rect x="873" y="82" width="3" height="3" fill="#fff"/>
</g>
<path d="M2 473h1v2h-1zM3 469h1v4h-1zM4 466h1v3h-1zM5 462h1v4h-1zM6 459h1v3h-1zM7 455h1v4h-1zM8 452h1v3h-1zM9 448h1v4h-1zM10 445h1v3h-1zM11 443h1v2h-1zM12 441h1v2h-1zM13 439h1v2h-1zM14 436h1v3h-1zM15 434h1v2h-1zM16 432h1v2h-1zM17 430h1v2h-1zM18 428h1v2h-1zM19 427h1v1h-1zM20 426h1v1h-1zM21 425h1v1h-1zM22 424h1v1h-1zM23 423h1v1h-1zM24 422h1v1h-1zM25 421h1v1h-1zM26 420h2v1h-2zM28 421h1v1h-1zM29 422h3v1h-3zM32 423h1v1h-1zM33 424h4v1h-4zM37 425h3v1h-3zM40 426h4v1h-4zM44 427h2v1h-2zM46 428h3v1h-3zM49 429h2v1h-2zM51 430h1v2h-1zM52 432h1v2h-1zM53 434h1v2h-1zM54 436h1v1h-1zM55 437h1v2h-1zM56 439h1v2h-1zM57 441h1v2h-1zM58 443h1v1h-1zM59 444h1v1h-1zM60 445h1v1h-1zM61 446h1v1h-1zM62 447h1v2h-1zM63 449h1v1h-1zM64 450h1v1h-1zM65 451h1v1h-1zM66 452h1v1h-1zM67 453h1v1h-1zM68 454h1v1h-1zM69 455h1v1h-1zM70 456h1v1h-1zM71 457h1v1h-1zM72 458h1v1h-1zM73 459h1v1h-1zM74 460h1v1h-1zM75 459h1v1h-1zM76 458h1v1h-1zM77 457h1v1h-1zM78 456h1v1h-1zM79 455h1v1h-1zM80 454h1v1h-1zM81 453h1v1h-1zM82 452h1v1h-1zM83 451h1v1h-1zM84 450h1v1h-1zM85 449h1v1h-1zM86 448h1v1h-1zM87 447h1v1h-1zM88 446h1v1h-1zM89 445h1v1h-1zM90 444h2v1h-2zM92 445h1v1h-1zM93 446h3v1h-3zM96 447h1v1h-1zM97 448h2v1h-2zM99 446h1v2h-1zM100 445h1v1h-1zM101 443h1v2h-1zM102 442h1v1h-1zM103 440h1v2h-1zM104 439h1v1h-1zM105 437h1v2h-1zM106 436h2v1h-2zM108 437h2v1h-2zM110 438h3v1h-3zM113 439h2v1h-2zM115 438h1v1h-1zM116 437h1v1h-1zM117 436h2v1h-2zM119 435h1v1h-1zM120 434h1v1h-1zM121 433h1v1h-1zM122 432h1v1h-1zM123 433h1v2h-1zM124 435h1v2h-1zM125 437h1v2h-1zM126 439h1v1h-1zM127 440h1v2h-1zM128 442h1v2h-1zM129 444h1v2h-1zM130 446h2v1h-2zM132 445h1v1h-1zM133 444h3v1h-3zM136 443h1v1h-1zM137 442h3v1h-3zM140 443h1v1h-1zM141 444h3v1h-3zM144 445h1v1h-1zM145 446h2v1h-2zM147 444h1v2h-1zM148 443h1v1h-1zM149 441h1v2h-1zM150 440h1v1h-1zM151 438h1v2h-1zM152 437h1v1h-1zM153 435h1v2h-1zM154 434h1v1h-1zM155 435h1v1h-1zM156 436h1v1h-1zM157 437h1v1h-1zM158 438h2v1h-2zM160 439h1v1h-1zM161 440h1v1h-1zM162 441h1v1h-1zM163 442h1v2h-1zM164 444h1v2h-1zM165 446h1v2h-1zM166 448h1v2h-1zM167 450h1v2h-1zM168 452h1v2h-1zM169 454h1v2h-1zM170 456h1v2h-1zM171 458h1v3h-1zM172 461h1v2h-1zM173 463h1v3h-1zM174 466h1v3h-1zM175 469h1v3h-1zM176 472h1v2h-1zM177 474h1v3h-1zM178 477h1v2h-1zM179 479h1v2h-1zM180 481h1v1h-1zM181 482h1v1h-1zM182 483h1v2h-1zM183 485h1v1h-1zM184 486h1v1h-1zM185 487h1v2h-1zM186 488h1v2h-1zM187 487h1v1h-1zM188 484h1v3h-1zM189 483h1v1h-1zM190 480h1v3h-1zM191 479h1v1h-1zM192 476h1v3h-1zM193 475h1v1h-1zM194 472h1v3h-1zM195 469h1v3h-1zM196 466h1v3h-1zM197 463h1v3h-1zM198 461h1v2h-1zM199 458h1v3h-1zM200 455h1v3h-1zM201 452h1v3h-1zM202 449h1v3h-1zM203 446h1v3h-1zM204 443h1v3h-1zM205 440h1v3h-1zM206 437h1v3h-1zM207 434h1v3h-1zM208 431h1v3h-1zM209 428h1v3h-1zM210 426h1v2h-1zM211 425h1v1h-1zM212 424h1v1h-1zM213 423h1v1h-1zM214 421h1v2h-1zM215 420h1v1h-1zM216 419h1v1h-1zM217 418h1v1h-1zM218 417h1v1h-1zM219 418h1v2h-1zM220 420h1v1h-1zM221 421h1v1h-1zM222 422h1v2h-1zM223 424h1v1h-1zM224 425h1v1h-1zM225 426h1v2h-1zM226 428h1v2h-1zM227 430h1v1h-1zM228 431h1v3h-1zM229 434h1v1h-1zM230 435h1v3h-1zM231 438h1v1h-1zM232 439h1v3h-1zM233 442h1v1h-1zM234 443h1v2h-1zM235 444h4v1h-4zM239 443h4v1h-4zM242 442h1v1h-1zM243 440h1v2h-1zM244 438h1v2h-1zM245 436h1v2h-1zM246 434h1v2h-1zM247 432h1v2h-1zM248 430h1v2h-1zM249 428h1v2h-1zM250 426h1v2h-1zM251 424h1v2h-1zM252 423h1v1h-1zM253 422h1v1h-1zM254 420h1v2h-1zM255 419h1v1h-1zM256 418h1v1h-1zM257 416h1v2h-1zM258 415h2v1h-2zM260 416h5v1h-5zM265 417h2v1h-2zM267 418h2v1h-2zM269 419h1v1h-1zM270 420h1v1h-1zM271 421h1v1h-1zM272 422h2v1h-2zM274 423h1v1h-1zM275 424h1v1h-1zM276 425h1v1h-1zM277 426h1v1h-1zM278 427h1v2h-1zM279 429h1v1h-1zM280 430h1v1h-1zM281 431h1v1h-1zM282 432h1v1h-1zM283 433h1v1h-1zM284 434h1v1h-1zM285 435h1v1h-1zM286 436h1v2h-1zM287 438h1v1h-1zM288 439h1v1h-1zM289 440h1v1h-1zM290 441h1v2h-1zM291 443h1v1h-1zM292 444h1v3h-1zM293 447h1v1h-1zM294 448h1v3h-1zM295 451h1v1h-1zM296 452h1v3h-1zM297 455h1v1h-1zM298 456h1v2h-1zM299 455h1v2h-1zM300 454h1v1h-1zM301 452h1v2h-1zM302 451h1v1h-1zM303 449h1v2h-1zM304 448h1v1h-1zM305 446h1v2h-1zM306 445h1v1h-1zM307 444h3v1h-3zM310 443h1v1h-1zM311 442h3v1h-3zM314 441h1v1h-1zM315 439h1v2h-1zM316 438h1v1h-1zM317 436h1v2h-1zM318 435h1v1h-1zM319 433h1v2h-1zM320 432h1v1h-1zM321 430h1v2h-1zM322 429h1v1h-1zM323 428h1v1h-1zM324 427h1v1h-1zM325 426h2v1h-2zM327 425h1v1h-1zM328 424h1v1h-1zM329 423h1v1h-1zM330 422h5v1h-5zM335 421h5v1h-5zM340 420h5v1h-5zM345 419h5v1h-5zM350 418h6v1h-6zM356 417h1v1h-1zM357 416h3v1h-3zM360 415h1v1h-1zM361 414h3v1h-3zM364 415h2v1h-2zM366 416h3v1h-3zM369 417h2v1h-2zM371 418h3v1h-3zM374 419h1v1h-1zM375 420h3v1h-3zM378 421h1v1h-1zM379 422h1v2h-1zM380 424h1v1h-1zM381 425h1v2h-1zM382 427h1v1h-1zM383 428h1v2h-1zM384 430h1v1h-1zM385 431h1v2h-1zM386 433h1v1h-1zM387 434h1v2h-1zM388 436h1v2h-1zM389 438h1v1h-1zM390 439h1v2h-1zM391 441h1v1h-1zM392 442h1v2h-1zM393 444h1v2h-1zM394 446h1v1h-1zM395 447h1v1h-1zM396 448h1v2h-1zM397 450h1v1h-1zM398 451h1v1h-1zM399 452h1v1h-1zM400 453h1v2h-1zM401 455h1v1h-1zM402 456h3v1h-3zM405 455h3v1h-3zM408 454h3v1h-3zM411 455h1v1h-1zM412 456h1v1h-1zM413 457h1v1h-1zM414 458h1v1h-1zM415 459h1v1h-1zM416 460h1v1h-1zM417 461h1v1h-1zM418 462h1v1h-1zM419 463h1v1h-1zM420 464h2v1h-2zM422 465h1v1h-1zM423 466h2v1h-2zM425 467h1v1h-1zM426 468h1v1h-1zM427 467h1v1h-1zM428 466h2v1h-2zM430 465h1v1h-1zM431 464h2v1h-2zM433 463h1v1h-1zM434 462h1v1h-1zM435 460h1v2h-1zM436 458h1v2h-1zM437 457h1v1h-1zM438 455h1v2h-1zM439 454h1v1h-1zM440 452h1v2h-1zM441 450h1v2h-1zM442 449h1v1h-1zM443 447h1v2h-1zM444 445h1v2h-1zM445 444h1v1h-1zM446 442h1v2h-1zM447 441h1v1h-1zM448 439h1v2h-1zM449 437h1v2h-1zM450 436h1v1h-1zM451 434h1v2h-1zM452 432h1v2h-1zM453 430h1v2h-1zM454 429h1v1h-1zM455 427h1v2h-1zM456 425h1v2h-1zM457 423h1v2h-1zM458 422h1v1h-1zM459 421h1v1h-1zM460 420h1v1h-1zM461 419h1v1h-1zM462 418h1v1h-1zM463 417h1v1h-1zM464 416h1v1h-1zM465 415h1v1h-1zM466 414h13v1h-13zM479 415h5v1h-5zM484 416h5v1h-5zM489 417h2v1h-2zM491 418h3v1h-3zM494 419h1v1h-1zM495 420h3v1h-3zM498 421h2v1h-2zM500 422h5v1h-5zM505 423h3v1h-3zM508 424h5v1h-5zM513 425h2v1h-2zM515 424h3v1h-3zM518 423h1v1h-1zM519 422h3v1h-3zM522 421h4v1h-4zM526 422h9v1h-9zM535 423h4v1h-4zM538 424h1v1h-1zM539 425h1v2h-1zM540 427h1v3h-1zM541 430h1v3h-1zM542 433h1v2h-1zM543 435h1v3h-1zM544 438h1v3h-1zM545 441h1v2h-1zM546 443h1v2h-1zM547 442h1v2h-1zM548 441h1v1h-1zM549 439h1v2h-1zM550 438h1v1h-1zM551 436h1v2h-1zM552 435h1v1h-1zM553 433h1v2h-1zM554 432h1v1h-1zM555 431h1v1h-1zM556 430h1v1h-1zM557 429h1v1h-1zM558 427h1v2h-1zM559 426h1v1h-1zM560 425h1v1h-1zM561 424h1v1h-1zM562 423h1v1h-1zM563 422h1v1h-1zM564 420h1v2h-1zM565 419h1v1h-1zM566 418h1v1h-1zM567 417h1v1h-1zM568 415h1v2h-1zM569 414h1v1h-1zM570 413h1v1h-1zM571 414h1v1h-1zM572 415h1v1h-1zM573 416h1v1h-1zM574 417h1v2h-1zM575 419h1v1h-1zM576 420h1v1h-1zM577 421h1v1h-1zM578 422h1v1h-1zM579 423h1v1h-1zM580 424h1v1h-1zM581 425h1v1h-1zM582 426h1v2h-1zM583 428h1v1h-1zM584 429h1v1h-1zM585 430h1v1h-1zM586 431h1v2h-1zM587 433h1v2h-1zM588 435h1v2h-1zM589 437h1v2h-1zM590 439h1v2h-1zM591 441h1v2h-1zM592 443h1v2h-1zM593 445h1v2h-1zM594 447h1v3h-1zM595 450h1v3h-1zM596 453h1v3h-1zM597 456h1v3h-1zM598 459h1v4h-1zM599 463h1v3h-1zM600 466h1v3h-1zM601 469h1v3h-1zM602 472h1v3h-1zM603 475h1v1h-1zM604 476h1v3h-1zM605 479h1v1h-1zM606 480h1v3h-1zM607 483h1v1h-1zM608 484h1v3h-1zM609 487h1v1h-1zM610 488h1v2h-1zM611 490h1v1h-1zM612 491h1v1h-1zM613 492h1v1h-1zM614 493h1v1h-1zM615 494h1v1h-1zM616 495h1v1h-1zM617 496h1v1h-1zM618 497h10v1h-10zM628 498h5v1h-5zM633 499h2v1h-2zM635 498h1v1h-1zM636 497h1v1h-1zM637 496h2v1h-2zM639 495h1v1h-1zM640 494h1v1h-1zM641 493h1v1h-1zM642 492h2v1h-2zM644 491h1v1h-1zM645 490h3v1h-3zM648 489h1v1h-1zM649 488h6v1h-6zM655 487h5v1h-5zM660 488h3v1h-3zM663 489h2v1h-2zM665 490h4v1h-4zM669 489h3v1h-3zM672 488h7v1h-7zM679 487h4v1h-4zM683 485h1v2h-1zM684 484h1v1h-1zM685 483h1v1h-1zM686 481h1v2h-1zM687 480h1v1h-1zM688 479h1v1h-1zM689 477h1v2h-1zM690 475h1v2h-1zM691 471h1v4h-1zM692 468h1v3h-1zM693 465h1v3h-1zM694 461h1v4h-1zM695 458h1v3h-1zM696 455h1v3h-1zM697 451h1v4h-1zM698 448h1v3h-1zM699 444h1v4h-1zM700 441h1v3h-1zM701 438h1v3h-1zM702 434h1v4h-1zM703 431h1v3h-1zM704 428h1v3h-1zM705 424h1v4h-1zM706 422h1v2h-1zM707 421h1v1h-1zM708 420h2v1h-2zM710 419h1v1h-1zM711 418h2v1h-2zM713 417h1v1h-1zM714 416h1v1h-1zM715 417h1v1h-1zM716 418h2v1h-2zM718 419h1v1h-1zM719 420h2v1h-2zM721 421h1v1h-1zM722 422h2v1h-2zM724 423h2v1h-2zM726 424h3v1h-3zM729 425h2v1h-2zM731 426h1v1h-1zM732 427h1v2h-1zM733 429h1v1h-1zM734 430h1v1h-1zM735 431h1v1h-1zM736 432h1v2h-1zM737 434h1v1h-1zM738 435h1v1h-1zM739 436h1v1h-1zM740 437h1v1h-1zM741 438h1v1h-1zM742 439h1v2h-1zM743 441h1v1h-1zM744 442h1v1h-1zM745 443h1v1h-1zM746 444h1v2h-1zM747 446h1v4h-1zM748 450h1v3h-1zM749 453h1v4h-1zM750 457h1v3h-1zM751 460h1v4h-1zM752 464h1v3h-1zM753 467h1v4h-1zM754 471h1v2h-1zM755 473h1v2h-1zM756 475h1v2h-1zM757 477h1v2h-1zM758 479h1v2h-1zM759 481h1v2h-1zM760 483h1v2h-1zM761 485h1v2h-1zM762 487h1v1h-1zM763 488h2v1h-2zM765 489h1v1h-1zM766 490h1v1h-1zM767 491h1v1h-1zM768 492h2v1h-2zM770 493h2v1h-2zM772 494h5v1h-5zM777 495h2v1h-2zM779 493h1v2h-1zM780 491h1v2h-1zM781 490h1v1h-1zM782 488h1v2h-1zM783 487h1v1h-1zM784 485h1v2h-1zM785 483h1v2h-1zM786 482h1v1h-1zM787 481h1v1h-1zM788 480h2v1h-2zM790 479h1v1h-1zM791 478h2v1h-2zM793 477h1v1h-1zM794 475h1v2h-1zM795 472h1v3h-1zM796 469h1v3h-1zM797 466h1v3h-1zM798 462h1v4h-1zM799 459h1v3h-1zM800 456h1v3h-1zM801 453h1v3h-1zM802 451h1v2h-1zM803 450h1v1h-1zM804 449h1v1h-1zM805 448h2v1h-2zM807 447h1v1h-1zM808 446h1v1h-1zM809 445h1v1h-1zM810 443h1v2h-1zM811 441h1v2h-1zM812 439h1v2h-1zM813 437h1v2h-1zM814 434h1v3h-1zM815 432h1v2h-1zM816 430h1v2h-1zM817 428h1v2h-1zM818 426h1v2h-1zM819 425h1v1h-1zM820 424h1v1h-1zM821 423h1v1h-1zM822 421h1v2h-1zM823 420h1v1h-1zM824 419h1v1h-1zM825 418h1v1h-1zM826 417h2v1h-2zM828 416h5v1h-5zM833 415h5v1h-5zM838 416h5v1h-5zM843 417h1v1h-1zM844 418h1v1h-1zM845 419h1v1h-1zM846 420h1v2h-1zM847 422h1v1h-1zM848 423h1v1h-1zM849 424h1v1h-1zM850 425h1v1h-1zM851 426h1v1h-1zM852 427h1v1h-1zM853 428h2v1h-2zM855 429h1v1h-1zM856 430h1v1h-1zM857 431h1v1h-1zM858 432h1v1h-1zM859 433h1v1h-1zM860 434h1v2h-1zM861 436h1v1h-1zM862 437h1v1h-1zM863 438h1v1h-1zM864 439h1v2h-1zM865 441h1v1h-1zM866 442h1v1h-1zM867 443h1v1h-1zM868 444h2v1h-2zM870 445h1v1h-1zM871 446h2v1h-2zM873 447h1v1h-1zM874 448h1v1h-1z" fill="#20b2aa" shape-rendering="crispEdges"/>
<path d="M2 483h1v1h-1zM3 482h1v1h-1zM3 481h1v1h-1zM6 477h1v1h-1zM6 476h1v1h-1zM7 475h1v1h-1zM9 471h1v1h-1zM10 470h1v1h-1zM10 469h1v1h-1zM12 465h1v1h-1zM12 464h1v1h-1zM13 463h1v1h-1zM14 459h1v1h-1zM15 458h1v1h-1zM15 457h1v1h-1zM16 453h1v1h-1zM17 452h1v1h-1zM17 451h1v1h-1zM19 447h1v1h-1zM19 446h1v1h-1zM20 445h1v1h-1zM22 441h1v1h-1zM22 440h1v1h-1zM22 439h1v1h-1zM24 435h1v1h-1zM25 434h1v1h-1zM25 433h1v1h-1zM28 429h1v1h-1zM29 428h1v1h-1zM30 428h1v1h-1zM34 424h1v1h-1zM35 424h1v1h-1zM36 424h1v1h-1zM40 424h1v1h-1zM41 424h1v1h-1zM42 424h1v1h-1zM46 426h1v1h-1zM47 426h1v1h-1zM48 426h1v1h-1zM52 428h1v1h-1zM53 429h1v1h-1zM54 430h1v1h-1zM58 433h1v1h-1zM59 434h1v1h-1zM60 435h1v1h-1zM64 439h1v1h-1zM65 440h1v1h-1zM66 441h1v1h-1zM69 445h1v1h-1zM70 446h1v1h-1zM70 447h1v1h-1zM73 451h1v1h-1zM74 452h1v1h-1zM75 452h1v1h-1zM79 454h1v1h-1zM80 454h1v1h-1zM81 455h1v1h-1zM85 454h1v1h-1zM86 454h1v1h-1zM87 453h1v1h-1zM91 452h1v1h-1zM92 451h1v1h-1zM93 450h1v1h-1zM97 448h1v1h-1zM98 448h1v1h-1zM99 447h1v1h-1zM103 445h1v1h-1zM104 444h1v1h-1zM105 444h1v1h-1zM109 442h1v1h-1zM110 442h1v1h-1zM111 442h1v1h-1zM115 440h1v1h-1zM116 440h1v1h-1zM117 439h1v1h-1zM121 437h1v1h-1zM122 436h1v1h-1zM123 436h1v1h-1zM127 438h1v1h-1zM128 438h1v1h-1zM129 439h1v1h-1zM133 439h1v1h-1zM134 440h1v1h-1zM135 440h1v1h-1zM139 440h1v1h-1zM140 441h1v1h-1zM141 442h1v1h-1zM145 444h1v1h-1zM146 444h1v1h-1zM147 444h1v1h-1zM151 442h1v1h-1zM152 442h1v1h-1zM153 441h1v1h-1zM157 441h1v1h-1zM158 440h1v1h-1zM159 440h1v1h-1zM163 440h1v1h-1zM164 441h1v1h-1zM165 442h1v1h-1zM169 444h1v1h-1zM170 444h1v1h-1zM171 445h1v1h-1zM173 449h1v1h-1zM173 450h1v1h-1zM174 451h1v1h-1zM176 455h1v1h-1zM176 456h1v1h-1zM177 457h1v1h-1zM179 461h1v1h-1zM180 462h1v1h-1zM180 463h1v1h-1zM182 467h1v1h-1zM182 468h1v1h-1zM183 469h1v1h-1zM185 473h1v1h-1zM186 474h1v1h-1zM186 475h1v1h-1zM190 478h1v1h-1zM191 478h1v1h-1zM192 479h1v1h-1zM196 478h1v1h-1zM197 477h1v1h-1zM198 476h1v1h-1zM201 472h1v1h-1zM202 471h1v1h-1zM202 470h1v1h-1zM204 466h1v1h-1zM204 465h1v1h-1zM205 464h1v1h-1zM206 460h1v1h-1zM206 459h1v1h-1zM207 458h1v1h-1zM208 454h1v1h-1zM209 453h1v1h-1zM209 452h1v1h-1zM210 448h1v1h-1zM211 447h1v1h-1zM211 446h1v1h-1zM213 442h1v1h-1zM214 441h1v1h-1zM214 440h1v1h-1zM216 436h1v1h-1zM216 435h1v1h-1zM217 434h1v1h-1zM219 430h1v1h-1zM220 429h1v1h-1zM221 428h1v1h-1zM225 425h1v1h-1zM226 424h1v1h-1zM227 425h1v1h-1zM231 428h1v1h-1zM232 428h1v1h-1zM233 429h1v1h-1zM237 433h1v1h-1zM238 434h1v1h-1zM239 435h1v1h-1zM243 438h1v1h-1zM244 438h1v1h-1zM245 438h1v1h-1zM249 438h1v1h-1zM250 438h1v1h-1zM251 437h1v1h-1zM254 433h1v1h-1zM255 432h1v1h-1zM256 431h1v1h-1zM259 427h1v1h-1zM260 426h1v1h-1zM261 425h1v1h-1zM264 421h1v1h-1zM265 420h1v1h-1zM266 419h1v1h-1zM270 418h1v1h-1zM271 418h1v1h-1zM272 418h1v1h-1zM276 420h1v1h-1zM277 420h1v1h-1zM278 421h1v1h-1zM282 424h1v1h-1zM283 425h1v1h-1zM284 426h1v1h-1zM288 430h1v1h-1zM289 431h1v1h-1zM290 432h1v1h-1zM293 436h1v1h-1zM294 437h1v1h-1zM294 438h1v1h-1zM297 442h1v1h-1zM298 443h1v1h-1zM299 444h1v1h-1zM303 446h1v1h-1zM304 447h1v1h-1zM305 447h1v1h-1zM309 448h1v1h-1zM310 448h1v1h-1zM311 448h1v1h-1zM315 447h1v1h-1zM316 446h1v1h-1zM316 445h1v1h-1zM320 441h1v1h-1zM320 440h1v1h-1zM321 439h1v1h-1zM325 435h1v1h-1zM326 434h1v1h-1zM327 434h1v1h-1zM331 430h1v1h-1zM332 429h1v1h-1zM333 428h1v1h-1zM337 425h1v1h-1zM338 424h1v1h-1zM339 424h1v1h-1zM343 422h1v1h-1zM344 422h1v1h-1zM345 421h1v1h-1zM349 420h1v1h-1zM350 420h1v1h-1zM351 420h1v1h-1zM355 419h1v1h-1zM356 418h1v1h-1zM357 418h1v1h-1zM361 417h1v1h-1zM362 417h1v1h-1zM363 417h1v1h-1zM367 416h1v1h-1zM368 416h1v1h-1zM369 416h1v1h-1zM373 416h1v1h-1zM374 416h1v1h-1zM375 417h1v1h-1zM379 418h1v1h-1zM380 419h1v1h-1zM381 420h1v1h-1zM385 423h1v1h-1zM386 424h1v1h-1zM387 425h1v1h-1zM390 429h1v1h-1zM391 430h1v1h-1zM392 431h1v1h-1zM395 435h1v1h-1zM396 436h1v1h-1zM397 437h1v1h-1zM399 441h1v1h-1zM400 442h1v1h-1zM401 443h1v1h-1zM404 447h1v1h-1zM405 448h1v1h-1zM406 448h1v1h-1zM410 452h1v1h-1zM411 453h1v1h-1zM412 453h1v1h-1zM416 456h1v1h-1zM417 456h1v1h-1zM418 457h1v1h-1zM422 459h1v1h-1zM423 460h1v1h-1zM424 460h1v1h-1zM428 462h1v1h-1zM429 462h1v1h-1zM430 462h1v1h-1zM434 464h1v1h-1zM435 464h1v1h-1zM436 463h1v1h-1zM440 461h1v1h-1zM441 460h1v1h-1zM442 460h1v1h-1zM445 456h1v1h-1zM446 455h1v1h-1zM446 454h1v1h-1zM449 450h1v1h-1zM450 449h1v1h-1zM451 448h1v1h-1zM453 444h1v1h-1zM453 443h1v1h-1zM454 442h1v1h-1zM456 438h1v1h-1zM457 437h1v1h-1zM457 436h1v1h-1zM460 432h1v1h-1zM461 431h1v1h-1zM462 430h1v1h-1zM465 426h1v1h-1zM465 425h1v1h-1zM466 424h1v1h-1zM470 420h1v1h-1zM471 420h1v1h-1zM472 419h1v1h-1zM476 416h1v1h-1zM477 416h1v1h-1zM478 416h1v1h-1zM482 415h1v1h-1zM483 415h1v1h-1zM484 415h1v1h-1zM488 416h1v1h-1zM489 416h1v1h-1zM490 416h1v1h-1zM494 417h1v1h-1zM495 417h1v1h-1zM496 418h1v1h-1zM500 419h1v1h-1zM501 419h1v1h-1zM502 420h1v1h-1zM506 421h1v1h-1zM507 421h1v1h-1zM508 422h1v1h-1zM512 422h1v1h-1zM513 423h1v1h-1zM514 423h1v1h-1zM518 423h1v1h-1zM519 423h1v1h-1zM520 423h1v1h-1zM524 423h1v1h-1zM525 423h1v1h-1zM526 423h1v1h-1zM530 423h1v1h-1zM531 423h1v1h-1zM532 423h1v1h-1zM536 422h1v1h-1zM537 422h1v1h-1zM538 422h1v1h-1zM542 426h1v1h-1zM543 427h1v1h-1zM544 428h1v1h-1zM548 431h1v1h-1zM549 431h1v1h-1zM550 432h1v1h-1zM554 433h1v1h-1zM555 433h1v1h-1zM556 433h1v1h-1zM560 433h1v1h-1zM561 433h1v1h-1zM562 433h1v1h-1zM565 429h1v1h-1zM566 428h1v1h-1zM567 427h1v1h-1zM570 423h1v1h-1zM571 422h1v1h-1zM572 422h1v1h-1zM576 420h1v1h-1zM577 420h1v1h-1zM578 419h1v1h-1zM582 420h1v1h-1zM583 421h1v1h-1zM584 421h1v1h-1zM587 424h1v1h-1zM588 425h1v1h-1zM589 426h1v1h-1zM591 430h1v1h-1zM592 431h1v1h-1zM593 432h1v1h-1zM595 436h1v1h-1zM595 437h1v1h-1zM596 438h1v1h-1zM598 442h1v1h-1zM598 443h1v1h-1zM599 444h1v1h-1zM601 448h1v1h-1zM601 449h1v1h-1zM602 450h1v1h-1zM603 454h1v1h-1zM604 455h1v1h-1zM604 456h1v1h-1zM606 460h1v1h-1zM606 461h1v1h-1zM607 462h1v1h-1zM608 466h1v1h-1zM609 467h1v1h-1zM609 468h1v1h-1zM611 472h1v1h-1zM612 473h1v1h-1zM612 474h1v1h-1zM614 478h1v1h-1zM614 479h1v1h-1zM615 480h1v1h-1zM617 484h1v1h-1zM618 485h1v1h-1zM618 486h1v1h-1zM622 490h1v1h-1zM622 491h1v1h-1zM623 492h1v1h-1zM627 495h1v1h-1zM628 496h1v1h-1zM629 496h1v1h-1zM633 498h1v1h-1zM634 498h1v1h-1zM635 498h1v1h-1zM639 497h1v1h-1zM640 496h1v1h-1zM641 496h1v1h-1zM645 495h1v1h-1zM646 494h1v1h-1zM647 494h1v1h-1zM651 492h1v1h-1zM652 492h1v1h-1zM653 492h1v1h-1zM657 490h1v1h-1zM658 489h1v1h-1zM659 489h1v1h-1zM663 488h1v1h-1zM664 488h1v1h-1zM665 488h1v1h-1zM669 488h1v1h-1zM670 488h1v1h-1zM671 488h1v1h-1zM675 488h1v1h-1zM676 488h1v1h-1zM677 488h1v1h-1zM681 488h1v1h-1zM682 488h1v1h-1zM683 488h1v1h-1zM687 486h1v1h-1zM688 485h1v1h-1zM689 484h1v1h-1zM692 481h1v1h-1zM692 480h1v1h-1zM693 479h1v1h-1zM695 475h1v1h-1zM696 474h1v1h-1zM696 473h1v1h-1zM698 469h1v1h-1zM699 468h1v1h-1zM699 467h1v1h-1zM701 463h1v1h-1zM701 462h1v1h-1zM701 461h1v1h-1zM703 457h1v1h-1zM703 456h1v1h-1zM704 455h1v1h-1zM705 451h1v1h-1zM706 450h1v1h-1zM706 449h1v1h-1zM708 445h1v1h-1zM708 444h1v1h-1zM708 443h1v1h-1zM710 439h1v1h-1zM710 438h1v1h-1zM711 437h1v1h-1zM712 433h1v1h-1zM713 432h1v1h-1zM713 431h1v1h-1zM716 427h1v1h-1zM717 426h1v1h-1zM718 425h1v1h-1zM721 421h1v1h-1zM722 420h1v1h-1zM723 420h1v1h-1zM727 421h1v1h-1zM728 421h1v1h-1zM729 421h1v1h-1zM733 423h1v1h-1zM734 424h1v1h-1zM735 425h1v1h-1zM739 428h1v1h-1zM740 429h1v1h-1zM741 430h1v1h-1zM745 434h1v1h-1zM746 435h1v1h-1zM747 436h1v1h-1zM749 440h1v1h-1zM749 441h1v1h-1zM750 442h1v1h-1zM752 446h1v1h-1zM752 447h1v1h-1zM753 448h1v1h-1zM755 452h1v1h-1zM755 453h1v1h-1zM756 454h1v1h-1zM758 458h1v1h-1zM758 459h1v1h-1zM758 460h1v1h-1zM760 464h1v1h-1zM761 465h1v1h-1zM761 466h1v1h-1zM763 470h1v1h-1zM764 471h1v1h-1zM764 472h1v1h-1zM766 476h1v1h-1zM766 477h1v1h-1zM767 478h1v1h-1zM769 482h1v1h-1zM770 483h1v1h-1zM770 484h1v1h-1zM774 488h1v1h-1zM775 489h1v1h-1zM776 490h1v1h-1zM780 492h1v1h-1zM781 491h1v1h-1zM782 491h1v1h-1zM786 490h1v1h-1zM787 489h1v1h-1zM788 488h1v1h-1zM792 486h1v1h-1zM793 485h1v1h-1zM794 484h1v1h-1zM796 480h1v1h-1zM797 479h1v1h-1zM797 478h1v1h-1zM800 474h1v1h-1zM800 473h1v1h-1zM801 472h1v1h-1zM803 468h1v1h-1zM804 467h1v1h-1zM804 466h1v1h-1zM807 462h1v1h-1zM808 461h1v1h-1zM808 460h1v1h-1zM810 456h1v1h-1zM811 455h1v1h-1zM811 454h1v1h-1zM813 450h1v1h-1zM814 449h1v1h-1zM814 448h1v1h-1zM816 444h1v1h-1zM817 443h1v1h-1zM817 442h1v1h-1zM819 438h1v1h-1zM820 437h1v1h-1zM821 436h1v1h-1zM824 432h1v1h-1zM825 431h1v1h-1zM825 430h1v1h-1zM829 426h1v1h-1zM830 425h1v1h-1zM830 424h1v1h-1zM834 420h1v1h-1zM835 420h1v1h-1zM836 419h1v1h-1zM840 417h1v1h-1zM841 416h1v1h-1zM842 416h1v1h-1zM846 418h1v1h-1zM847 418h1v1h-1zM848 418h1v1h-1zM852 420h1v1h-1zM853 421h1v1h-1zM854 422h1v1h-1zM858 425h1v1h-1zM859 426h1v1h-1zM860 427h1v1h-1zM864 431h1v1h-1zM865 432h1v1h-1zM866 433h1v1h-1zM870 437h1v1h-1zM871 438h1v1h-1zM872 439h1v1h-1z" fill="#ff0000" shape-rendering="crispEdges"/>
<g shape-rendering="crispEdges" fill="#000">
<rect x="1" y="2" width="1" height="506" fill="#000"/>
<rect x="1" y="2" width="892" height="1" fill="#000"/>
<rect x="892" y="2" width="1" height="506" fill="#000"/>
<rect x="1" y="402" width="892" height="1" fill="#000"/>
<rect x="1" y="404" width="892" height="1" fill="#000"/>
<rect x="1" y="507" width="893" height="1" fill="#000"/>
<rect x="893" y="36" width="2" height="1"/>
<rect x="893" y="69" width="2" height="1"/>
<rect x="893" y="102" width="2" height="1"/>
<rect x="893" y="135" width="2" height="1"/>
<rect x="893" y="168" width="2" height="1"/>
<rect x="893" y="201" width="2" height="1"/>
<rect x="893" y="234" width="2" height="1"/>
<rect x="893" y="267" width="2" height="1"/>
<rect x="893" y="300" width="2" height="1"/>
<rect x="893" y="333" width="2" height="1"/>
<rect x="893" y="366" width="2" height="1"/>
<rect x="893" y="399" width="2" height="1"/>
<rect x="893" y="406" width="2" height="1"/><rect x="893" y="506" width="2" height="1"/>
<rect x="2" y="508" width="1" height="3"/>
<rect x="66" y="508" width="1" height="3"/>
<rect x="130" y="508" width="1" height="3"/>
<rect x="194" y="508" width="1" height="3"/>
<rect x="258" y="508" width="1" height="3"/>
<rect x="322" y="508" width="1" height="3"/>
<rect x="386" y="508" width="1" height="3"/>
<rect x="450" y="508" width="1" height="3"/>
<rect x="514" y="508" width="1" height="3"/>
<rect x="578" y="508" width="1" height="3"/>
<rect x="642" y="508" width="1" height="3"/>
<rect x="706" y="508" width="1" height="3"/>
<rect x="770" y="508" width="1" height="3"/>
<rect x="834" y="508" width="1" height="3"/>
</g>
<polygon points="5,9 12,9 8.5,12.6" fill="#000"/>
<text x="17.2" y="14" textLength="70.2" lengthAdjust="spacingAndGlyphs" fill="#000" stroke="#000">USOUSDecn,H4</text>
<text x="93.1" y="14" textLength="28" lengthAdjust="spacingAndGlyphs" fill="#000" stroke="#000">76.504</text>
<text x="124.0" y="14" textLength="28" lengthAdjust="spacingAndGlyphs" fill="#000" stroke="#000">76.632</text>
<text x="155.0" y="14" textLength="28" lengthAdjust="spacingAndGlyphs" fill="#000" stroke="#000">76.476</text>
<text x="186.0" y="14" textLength="28" lengthAdjust="spacingAndGlyphs" fill="#000" stroke="#000">76.630</text>
<text x="897.9" y="40" textLength="28.2" lengthAdjust="spacingAndGlyphs" fill="#000" stroke="#000">78.255</text>
<text x="897.9" y="73" textLength="28.2" lengthAdjust="spacingAndGlyphs" fill="#000" stroke="#000">77.065</text>
<text x="897.9" y="106" textLength="28.2" lengthAdjust="spacingAndGlyphs" fill="#000" stroke="#000">75.910</text>
<text x="897.9" y="139" textLength="28.2" lengthAdjust="spacingAndGlyphs" fill="#000" stroke="#000">74.720</text>
<text x="897.9" y="172" textLength="28.2" lengthAdjust="spacingAndGlyphs" fill="#000" stroke="#000">73.530</text>
<text x="897.9" y="205" textLength="28.2" lengthAdjust="spacingAndGlyphs" fill="#000" stroke="#000">72.340</text>
<text x="897.9" y="238" textLength="28.2" lengthAdjust="spacingAndGlyphs" fill="#000" stroke="#000">71.185</text>
<text x="897.9" y="271" textLength="28.2" lengthAdjust="spacingAndGlyphs" fill="#000" stroke="#000">69.995</text>
<text x="897.9" y="304" textLength="28.2" lengthAdjust="spacingAndGlyphs" fill="#000" stroke="#000">68.805</text>
<text x="897.9" y="337" textLength="28.2" lengthAdjust="spacingAndGlyphs" fill="#000" stroke="#000">67.650</text>
<text x="897.9" y="370" textLength="28.2" lengthAdjust="spacingAndGlyphs" fill="#000" stroke="#000">66.460</text>
<text x="897.9" y="403" textLength="28.2" lengthAdjust="spacingAndGlyphs" fill="#000" stroke="#000">65.305</text>
<rect x="894" y="11" width="36" height="11" fill="#0000ff" shape-rendering="crispEdges"/>
<text x="898.3" y="20" textLength="27.8" lengthAdjust="spacingAndGlyphs" fill="#fff" stroke="#fff">78.933</text>
<rect x="894" y="61" width="36" height="11" fill="#0000ff" shape-rendering="crispEdges"/>
<text x="898.3" y="70" textLength="27.8" lengthAdjust="spacingAndGlyphs" fill="#fff" stroke="#fff">77.147</text>
<rect x="894" y="94" width="36" height="11" fill="#ff0000" shape-rendering="crispEdges"/>
<text x="898.3" y="103" textLength="27.8" lengthAdjust="spacingAndGlyphs" fill="#fff" stroke="#fff">75.944</text>
<rect x="894" y="134" width="36" height="11" fill="#ff0000" shape-rendering="crispEdges"/>
<text x="898.3" y="143" textLength="27.8" lengthAdjust="spacingAndGlyphs" fill="#fff" stroke="#fff">74.524</text>
<rect x="894" y="76" width="36" height="11" fill="#000" shape-rendering="crispEdges"/>
<text x="898.3" y="85" textLength="27.8" lengthAdjust="spacingAndGlyphs" fill="#fff" stroke="#fff">76.630</text>
<text x="896.2" y="415" textLength="15" lengthAdjust="spacingAndGlyphs" fill="#000" stroke="#000">100</text>
<text x="895.0" y="430" textLength="10.2" lengthAdjust="spacingAndGlyphs" fill="#000" stroke="#000">80</text>
<text x="895.0" y="490" textLength="10.2" lengthAdjust="spacingAndGlyphs" fill="#000" stroke="#000">20</text>
<text x="895.9" y="504" textLength="5.2" lengthAdjust="spacingAndGlyphs" fill="#000" stroke="#000">0</text>
<text x="5.9" y="417" textLength="49.6" lengthAdjust="spacingAndGlyphs" fill="#000" stroke="#000">Stoch(5,3,3)</text>
<text x="59.3" y="417" textLength="33" lengthAdjust="spacingAndGlyphs" fill="#000" stroke="#000">57.6758</text>
<text x="94.9" y="417" textLength="33" lengthAdjust="spacingAndGlyphs" fill="#000" stroke="#000">65.5366</text>
<text x="1.1" y="520" textLength="49.9" lengthAdjust="spacingAndGlyphs" fill="#000" stroke="#000">28 Jun 2023</text>
<text x="65.1" y="520" textLength="52.6" lengthAdjust="spacingAndGlyphs" fill="#000" stroke="#000">29 Jun 16:00</text>
<text x="129.1" y="520" textLength="44.8" lengthAdjust="spacingAndGlyphs" fill="#000" stroke="#000">2 Jul 22:00</text>
<text x="193.1" y="520" textLength="44.8" lengthAdjust="spacingAndGlyphs" fill="#000" stroke="#000">4 Jul 08:00</text>
<text x="257.1" y="520" textLength="44.8" lengthAdjust="spacingAndGlyphs" fill="#000" stroke="#000">5 Jul 16:00</text>
<text x="321.1" y="520" textLength="45.2" lengthAdjust="spacingAndGlyphs" fill="#000" stroke="#000">7 Jul 00:00</text>
<text x="385.1" y="520" textLength="49.5" lengthAdjust="spacingAndGlyphs" fill="#000" stroke="#000">10 Jul 04:00</text>
<text x="449.1" y="520" textLength="49.5" lengthAdjust="spacingAndGlyphs" fill="#000" stroke="#000">11 Jul 12:00</text>
<text x="513.1" y="520" textLength="49.8" lengthAdjust="spacingAndGlyphs" fill="#000" stroke="#000">12 Jul 20:00</text>
<text x="577.1" y="520" textLength="50" lengthAdjust="spacingAndGlyphs" fill="#000" stroke="#000">14 Jul 04:00</text>
<text x="641.1" y="520" textLength="49.5" lengthAdjust="spacingAndGlyphs" fill="#000" stroke="#000">17 Jul 08:00</text>
<text x="705.1" y="520" textLength="49.5" lengthAdjust="spacingAndGlyphs" fill="#000" stroke="#000">18 Jul 16:00</text>
<text x="769.1" y="520" textLength="49.8" lengthAdjust="spacingAndGlyphs" fill="#000" stroke="#000">20 Jul 00:00</text>
<text x="833.1" y="520" textLength="49.8" lengthAdjust="spacingAndGlyphs" fill="#000" stroke="#000">21 Jul 08:00</text>
</svg>
</body></html>
